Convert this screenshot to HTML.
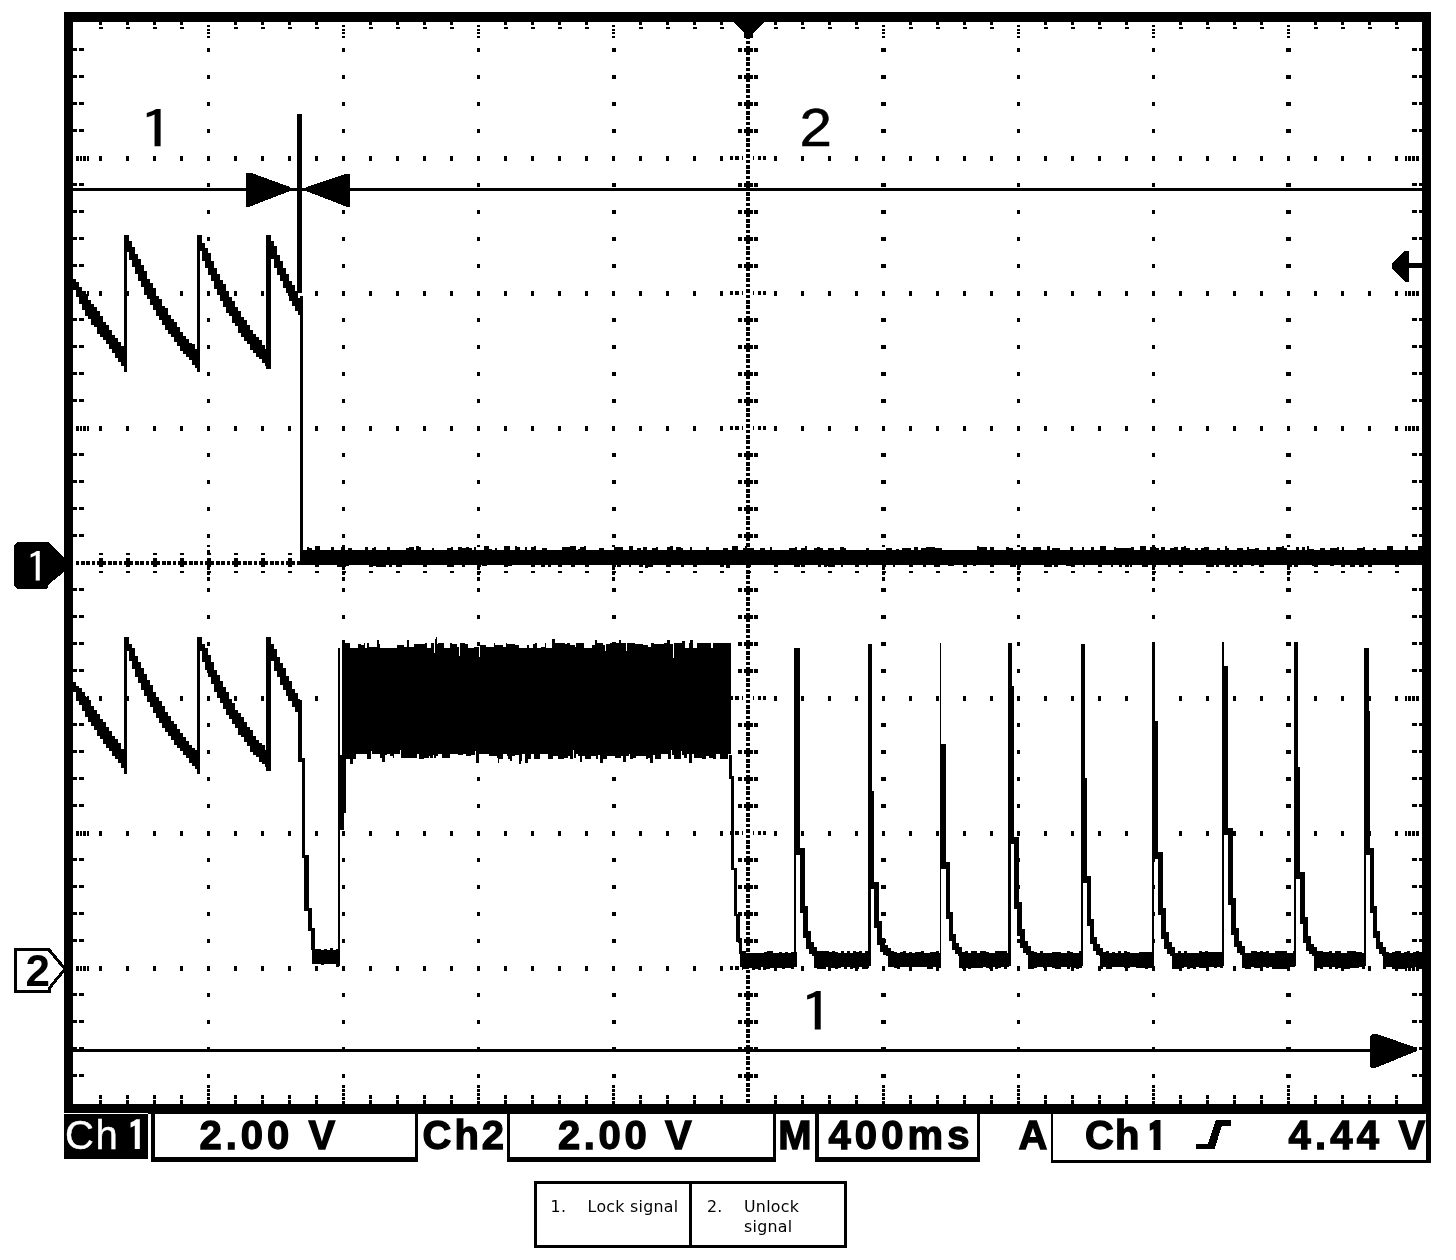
<!DOCTYPE html>
<html lang="en"><head><meta charset="utf-8"><title>Oscilloscope capture - lock / unlock signal</title>
<style>
html,body{margin:0;padding:0;background:#fff;}
body{width:1456px;height:1260px;overflow:hidden;position:relative;font-family:"Liberation Sans",sans-serif;}
svg{position:absolute;left:0;top:0;display:block;will-change:transform;}
svg text{font-family:"Liberation Sans",sans-serif;}
svg .d{font-family:"IPAGothic","Liberation Sans",sans-serif;}
table.legend{will-change:transform;position:absolute;left:534px;top:1181px;width:313px;height:67px;border-collapse:collapse;table-layout:fixed;font-family:"DejaVu Sans","Liberation Sans",sans-serif;font-size:15.8px;line-height:19.4px;letter-spacing:.28px;color:#000;}
table.legend td{border:3px solid #000;padding:0;vertical-align:top;position:relative;}
table.legend td.c1{width:152px;}
table.legend td.c1 .n{left:13.6px;}
table.legend td.c1 .t{left:50.6px;}
table.legend .n{position:absolute;left:15px;top:13.4px;}
table.legend .t{position:absolute;left:52px;top:13.4px;white-space:nowrap;}
</style></head><body>
<svg width="1456" height="1260" viewBox="0 0 1456 1260" shape-rendering="crispEdges">
<rect x="0" y="0" width="1456" height="1260" fill="#fff"/>
<g id="grid">
<path d="M207 47.5h3v4h-3zM207 74.5h3v4h-3zM207 101.5h3v4h-3zM207 128.5h3v4h-3zM207 182.5h3v4h-3zM207 209.5h3v4h-3zM207 236.5h3v4h-3zM207 263.5h3v4h-3zM207 317.5h3v4h-3zM207 344.5h3v4h-3zM207 371.5h3v4h-3zM207 398.5h3v4h-3zM207 452.5h3v4h-3zM207 479.5h3v4h-3zM207 506.5h3v4h-3zM207 533.5h3v4h-3zM207 587.5h3v4h-3zM207 614.5h3v4h-3zM207 641.5h3v4h-3zM207 668.5h3v4h-3zM207 722.5h3v4h-3zM207 749.5h3v4h-3zM207 776.5h3v4h-3zM207 803.5h3v4h-3zM207 857.5h3v4h-3zM207 884.5h3v4h-3zM207 911.5h3v4h-3zM207 938.5h3v4h-3zM207 992.5h3v4h-3zM207 1019.5h3v4h-3zM207 1046.5h3v4h-3zM207 1073.5h3v4h-3zM207 25h3v2h-3zM207 28.5h3v2h-3zM207 32h3v2h-3zM207 36h3v2h-3zM207 1085h3v2.5h-3zM207 1089h3v2.5h-3zM207 1093h3v2.5h-3zM207 1097h3v2.5h-3zM207 1101h3v2.5h-3zM207 545.2h3v1.5h-3zM207 549.5h3v4h-3zM207 566.5h3v3h-3zM207 571.8h3v3.5h-3zM207 577.2h3v3.5h-3zM341.7 47.5h3.6v4h-3.6zM341.7 74.5h3.6v4h-3.6zM341.7 101.5h3.6v4h-3.6zM341.7 128.5h3.6v4h-3.6zM341.7 182.5h3.6v4h-3.6zM341.7 209.5h3.6v4h-3.6zM341.7 236.5h3.6v4h-3.6zM341.7 263.5h3.6v4h-3.6zM341.7 317.5h3.6v4h-3.6zM341.7 344.5h3.6v4h-3.6zM341.7 371.5h3.6v4h-3.6zM341.7 398.5h3.6v4h-3.6zM341.7 452.5h3.6v4h-3.6zM341.7 479.5h3.6v4h-3.6zM341.7 506.5h3.6v4h-3.6zM341.7 533.5h3.6v4h-3.6zM341.7 587.5h3.6v4h-3.6zM341.7 614.5h3.6v4h-3.6zM341.7 641.5h3.6v4h-3.6zM341.7 668.5h3.6v4h-3.6zM341.7 722.5h3.6v4h-3.6zM341.7 749.5h3.6v4h-3.6zM341.7 776.5h3.6v4h-3.6zM341.7 803.5h3.6v4h-3.6zM341.7 857.5h3.6v4h-3.6zM341.7 884.5h3.6v4h-3.6zM341.7 911.5h3.6v4h-3.6zM341.7 938.5h3.6v4h-3.6zM341.7 992.5h3.6v4h-3.6zM341.7 1019.5h3.6v4h-3.6zM341.7 1046.5h3.6v4h-3.6zM341.7 1073.5h3.6v4h-3.6zM342 25h3v2h-3zM342 28.5h3v2h-3zM342 32h3v2h-3zM342 36h3v2h-3zM342 1085h3v2.5h-3zM342 1089h3v2.5h-3zM342 1093h3v2.5h-3zM342 1097h3v2.5h-3zM342 1101h3v2.5h-3zM342 545.2h3v1.5h-3zM342 549.5h3v4h-3zM342 566.5h3v3h-3zM342 571.8h3v3.5h-3zM342 577.2h3v3.5h-3zM477.2 47.5h2.6v4h-2.6zM477.2 74.5h2.6v4h-2.6zM477.2 101.5h2.6v4h-2.6zM477.2 128.5h2.6v4h-2.6zM477.2 182.5h2.6v4h-2.6zM477.2 209.5h2.6v4h-2.6zM477.2 236.5h2.6v4h-2.6zM477.2 263.5h2.6v4h-2.6zM477.2 317.5h2.6v4h-2.6zM477.2 344.5h2.6v4h-2.6zM477.2 371.5h2.6v4h-2.6zM477.2 398.5h2.6v4h-2.6zM477.2 452.5h2.6v4h-2.6zM477.2 479.5h2.6v4h-2.6zM477.2 506.5h2.6v4h-2.6zM477.2 533.5h2.6v4h-2.6zM477.2 587.5h2.6v4h-2.6zM477.2 614.5h2.6v4h-2.6zM477.2 641.5h2.6v4h-2.6zM477.2 668.5h2.6v4h-2.6zM477.2 722.5h2.6v4h-2.6zM477.2 749.5h2.6v4h-2.6zM477.2 776.5h2.6v4h-2.6zM477.2 803.5h2.6v4h-2.6zM477.2 857.5h2.6v4h-2.6zM477.2 884.5h2.6v4h-2.6zM477.2 911.5h2.6v4h-2.6zM477.2 938.5h2.6v4h-2.6zM477.2 992.5h2.6v4h-2.6zM477.2 1019.5h2.6v4h-2.6zM477.2 1046.5h2.6v4h-2.6zM477.2 1073.5h2.6v4h-2.6zM477 25h3v2h-3zM477 28.5h3v2h-3zM477 32h3v2h-3zM477 36h3v2h-3zM477 1085h3v2.5h-3zM477 1089h3v2.5h-3zM477 1093h3v2.5h-3zM477 1097h3v2.5h-3zM477 1101h3v2.5h-3zM477 545.2h3v1.5h-3zM477 549.5h3v4h-3zM477 566.5h3v3h-3zM477 571.8h3v3.5h-3zM477 577.2h3v3.5h-3zM611.5 47.5h4v4h-4zM611.5 74.5h4v4h-4zM611.5 101.5h4v4h-4zM611.5 128.5h4v4h-4zM611.5 182.5h4v4h-4zM611.5 209.5h4v4h-4zM611.5 236.5h4v4h-4zM611.5 263.5h4v4h-4zM611.5 317.5h4v4h-4zM611.5 344.5h4v4h-4zM611.5 371.5h4v4h-4zM611.5 398.5h4v4h-4zM611.5 452.5h4v4h-4zM611.5 479.5h4v4h-4zM611.5 506.5h4v4h-4zM611.5 533.5h4v4h-4zM611.5 587.5h4v4h-4zM611.5 614.5h4v4h-4zM611.5 641.5h4v4h-4zM611.5 668.5h4v4h-4zM611.5 722.5h4v4h-4zM611.5 749.5h4v4h-4zM611.5 776.5h4v4h-4zM611.5 803.5h4v4h-4zM611.5 857.5h4v4h-4zM611.5 884.5h4v4h-4zM611.5 911.5h4v4h-4zM611.5 938.5h4v4h-4zM611.5 992.5h4v4h-4zM611.5 1019.5h4v4h-4zM611.5 1046.5h4v4h-4zM611.5 1073.5h4v4h-4zM612 25h3v2h-3zM612 28.5h3v2h-3zM612 32h3v2h-3zM612 36h3v2h-3zM612 1085h3v2.5h-3zM612 1089h3v2.5h-3zM612 1093h3v2.5h-3zM612 1097h3v2.5h-3zM612 1101h3v2.5h-3zM612 545.2h3v1.5h-3zM612 549.5h3v4h-3zM612 566.5h3v3h-3zM612 571.8h3v3.5h-3zM612 577.2h3v3.5h-3zM881.3 47.5h4.4v4h-4.4zM881.3 74.5h4.4v4h-4.4zM881.3 101.5h4.4v4h-4.4zM881.3 128.5h4.4v4h-4.4zM881.3 182.5h4.4v4h-4.4zM881.3 209.5h4.4v4h-4.4zM881.3 236.5h4.4v4h-4.4zM881.3 263.5h4.4v4h-4.4zM881.3 317.5h4.4v4h-4.4zM881.3 344.5h4.4v4h-4.4zM881.3 371.5h4.4v4h-4.4zM881.3 398.5h4.4v4h-4.4zM881.3 452.5h4.4v4h-4.4zM881.3 479.5h4.4v4h-4.4zM881.3 506.5h4.4v4h-4.4zM881.3 533.5h4.4v4h-4.4zM881.3 587.5h4.4v4h-4.4zM881.3 614.5h4.4v4h-4.4zM881.3 641.5h4.4v4h-4.4zM881.3 668.5h4.4v4h-4.4zM881.3 722.5h4.4v4h-4.4zM881.3 749.5h4.4v4h-4.4zM881.3 776.5h4.4v4h-4.4zM881.3 803.5h4.4v4h-4.4zM881.3 857.5h4.4v4h-4.4zM881.3 884.5h4.4v4h-4.4zM881.3 911.5h4.4v4h-4.4zM881.3 938.5h4.4v4h-4.4zM881.3 992.5h4.4v4h-4.4zM881.3 1019.5h4.4v4h-4.4zM881.3 1046.5h4.4v4h-4.4zM881.3 1073.5h4.4v4h-4.4zM882 25h3v2h-3zM882 28.5h3v2h-3zM882 32h3v2h-3zM882 36h3v2h-3zM882 1085h3v2.5h-3zM882 1089h3v2.5h-3zM882 1093h3v2.5h-3zM882 1097h3v2.5h-3zM882 1101h3v2.5h-3zM882 545.2h3v1.5h-3zM882 549.5h3v4h-3zM882 566.5h3v3h-3zM882 571.8h3v3.5h-3zM882 577.2h3v3.5h-3zM1017 47.5h3v4h-3zM1017 74.5h3v4h-3zM1017 101.5h3v4h-3zM1017 128.5h3v4h-3zM1017 182.5h3v4h-3zM1017 209.5h3v4h-3zM1017 236.5h3v4h-3zM1017 263.5h3v4h-3zM1017 317.5h3v4h-3zM1017 344.5h3v4h-3zM1017 371.5h3v4h-3zM1017 398.5h3v4h-3zM1017 452.5h3v4h-3zM1017 479.5h3v4h-3zM1017 506.5h3v4h-3zM1017 533.5h3v4h-3zM1017 587.5h3v4h-3zM1017 614.5h3v4h-3zM1017 641.5h3v4h-3zM1017 668.5h3v4h-3zM1017 722.5h3v4h-3zM1017 749.5h3v4h-3zM1017 776.5h3v4h-3zM1017 803.5h3v4h-3zM1017 857.5h3v4h-3zM1017 884.5h3v4h-3zM1017 911.5h3v4h-3zM1017 938.5h3v4h-3zM1017 992.5h3v4h-3zM1017 1019.5h3v4h-3zM1017 1046.5h3v4h-3zM1017 1073.5h3v4h-3zM1017 25h3v2h-3zM1017 28.5h3v2h-3zM1017 32h3v2h-3zM1017 36h3v2h-3zM1017 1085h3v2.5h-3zM1017 1089h3v2.5h-3zM1017 1093h3v2.5h-3zM1017 1097h3v2.5h-3zM1017 1101h3v2.5h-3zM1017 545.2h3v1.5h-3zM1017 549.5h3v4h-3zM1017 566.5h3v3h-3zM1017 571.8h3v3.5h-3zM1017 577.2h3v3.5h-3zM1152.2 47.5h2.6v4h-2.6zM1152.2 74.5h2.6v4h-2.6zM1152.2 101.5h2.6v4h-2.6zM1152.2 128.5h2.6v4h-2.6zM1152.2 182.5h2.6v4h-2.6zM1152.2 209.5h2.6v4h-2.6zM1152.2 236.5h2.6v4h-2.6zM1152.2 263.5h2.6v4h-2.6zM1152.2 317.5h2.6v4h-2.6zM1152.2 344.5h2.6v4h-2.6zM1152.2 371.5h2.6v4h-2.6zM1152.2 398.5h2.6v4h-2.6zM1152.2 452.5h2.6v4h-2.6zM1152.2 479.5h2.6v4h-2.6zM1152.2 506.5h2.6v4h-2.6zM1152.2 533.5h2.6v4h-2.6zM1152.2 587.5h2.6v4h-2.6zM1152.2 614.5h2.6v4h-2.6zM1152.2 641.5h2.6v4h-2.6zM1152.2 668.5h2.6v4h-2.6zM1152.2 722.5h2.6v4h-2.6zM1152.2 749.5h2.6v4h-2.6zM1152.2 776.5h2.6v4h-2.6zM1152.2 803.5h2.6v4h-2.6zM1152.2 857.5h2.6v4h-2.6zM1152.2 884.5h2.6v4h-2.6zM1152.2 911.5h2.6v4h-2.6zM1152.2 938.5h2.6v4h-2.6zM1152.2 992.5h2.6v4h-2.6zM1152.2 1019.5h2.6v4h-2.6zM1152.2 1046.5h2.6v4h-2.6zM1152.2 1073.5h2.6v4h-2.6zM1152 25h3v2h-3zM1152 28.5h3v2h-3zM1152 32h3v2h-3zM1152 36h3v2h-3zM1152 1085h3v2.5h-3zM1152 1089h3v2.5h-3zM1152 1093h3v2.5h-3zM1152 1097h3v2.5h-3zM1152 1101h3v2.5h-3zM1152 545.2h3v1.5h-3zM1152 549.5h3v4h-3zM1152 566.5h3v3h-3zM1152 571.8h3v3.5h-3zM1152 577.2h3v3.5h-3zM1286 47.5h5v4h-5zM1286 74.5h5v4h-5zM1286 101.5h5v4h-5zM1286 128.5h5v4h-5zM1286 182.5h5v4h-5zM1286 209.5h5v4h-5zM1286 236.5h5v4h-5zM1286 263.5h5v4h-5zM1286 317.5h5v4h-5zM1286 344.5h5v4h-5zM1286 371.5h5v4h-5zM1286 398.5h5v4h-5zM1286 452.5h5v4h-5zM1286 479.5h5v4h-5zM1286 506.5h5v4h-5zM1286 533.5h5v4h-5zM1286 587.5h5v4h-5zM1286 614.5h5v4h-5zM1286 641.5h5v4h-5zM1286 668.5h5v4h-5zM1286 722.5h5v4h-5zM1286 749.5h5v4h-5zM1286 776.5h5v4h-5zM1286 803.5h5v4h-5zM1286 857.5h5v4h-5zM1286 884.5h5v4h-5zM1286 911.5h5v4h-5zM1286 938.5h5v4h-5zM1286 992.5h5v4h-5zM1286 1019.5h5v4h-5zM1286 1046.5h5v4h-5zM1286 1073.5h5v4h-5zM1287 25h3v2h-3zM1287 28.5h3v2h-3zM1287 32h3v2h-3zM1287 36h3v2h-3zM1287 1085h3v2.5h-3zM1287 1089h3v2.5h-3zM1287 1093h3v2.5h-3zM1287 1097h3v2.5h-3zM1287 1101h3v2.5h-3zM1287 545.2h3v1.5h-3zM1287 549.5h3v4h-3zM1287 566.5h3v3h-3zM1287 571.8h3v3.5h-3zM1287 577.2h3v3.5h-3zM99 155.5h3v5h-3zM126 155.5h3v5h-3zM153 155.5h3v5h-3zM180 155.5h3v5h-3zM207 155.5h3v5h-3zM234 155.5h3v5h-3zM261 155.5h3v5h-3zM288 155.5h3v5h-3zM315 155.5h3v5h-3zM342 155.5h3v5h-3zM369 155.5h3v5h-3zM396 155.5h3v5h-3zM423 155.5h3v5h-3zM450 155.5h3v5h-3zM477 155.5h3v5h-3zM504 155.5h3v5h-3zM531 155.5h3v5h-3zM558 155.5h3v5h-3zM585 155.5h3v5h-3zM612 155.5h3v5h-3zM639 155.5h3v5h-3zM666 155.5h3v5h-3zM693 155.5h3v5h-3zM720 155.5h3v5h-3zM774 155.5h3v5h-3zM801 155.5h3v5h-3zM828 155.5h3v5h-3zM855 155.5h3v5h-3zM882 155.5h3v5h-3zM909 155.5h3v5h-3zM936 155.5h3v5h-3zM963 155.5h3v5h-3zM990 155.5h3v5h-3zM1017 155.5h3v5h-3zM1044 155.5h3v5h-3zM1071 155.5h3v5h-3zM1098 155.5h3v5h-3zM1125 155.5h3v5h-3zM1152 155.5h3v5h-3zM1179 155.5h3v5h-3zM1206 155.5h3v5h-3zM1233 155.5h3v5h-3zM1260 155.5h3v5h-3zM1287 155.5h3v5h-3zM1314 155.5h3v5h-3zM1341 155.5h3v5h-3zM1368 155.5h3v5h-3zM1395 155.5h3v5h-3zM76 155.5h2.6v5h-2.6zM79.6 155.5h2.6v5h-2.6zM83.2 155.5h2.6v5h-2.6zM86.8 155.5h2.6v5h-2.6zM1404.5 155.5h2.6v5h-2.6zM1408.3 155.5h2.6v5h-2.6zM1412.1 155.5h2.6v5h-2.6zM1416.4 155.5h2.6v5h-2.6zM729.8 155.5h3.5v4.5h-3.5zM735 155.5h4v4.5h-4zM741.7 155.5h1.6v4.5h-1.6zM752.7 155.5h1.6v4.5h-1.6zM757.5 155.5h3v4.5h-3zM762.8 155.5h3.5v4.5h-3.5zM99 290.5h3v5h-3zM126 290.5h3v5h-3zM153 290.5h3v5h-3zM180 290.5h3v5h-3zM207 290.5h3v5h-3zM234 290.5h3v5h-3zM261 290.5h3v5h-3zM288 290.5h3v5h-3zM315 290.5h3v5h-3zM342 290.5h3v5h-3zM369 290.5h3v5h-3zM396 290.5h3v5h-3zM423 290.5h3v5h-3zM450 290.5h3v5h-3zM477 290.5h3v5h-3zM504 290.5h3v5h-3zM531 290.5h3v5h-3zM558 290.5h3v5h-3zM585 290.5h3v5h-3zM612 290.5h3v5h-3zM639 290.5h3v5h-3zM666 290.5h3v5h-3zM693 290.5h3v5h-3zM720 290.5h3v5h-3zM774 290.5h3v5h-3zM801 290.5h3v5h-3zM828 290.5h3v5h-3zM855 290.5h3v5h-3zM882 290.5h3v5h-3zM909 290.5h3v5h-3zM936 290.5h3v5h-3zM963 290.5h3v5h-3zM990 290.5h3v5h-3zM1017 290.5h3v5h-3zM1044 290.5h3v5h-3zM1071 290.5h3v5h-3zM1098 290.5h3v5h-3zM1125 290.5h3v5h-3zM1152 290.5h3v5h-3zM1179 290.5h3v5h-3zM1206 290.5h3v5h-3zM1233 290.5h3v5h-3zM1260 290.5h3v5h-3zM1287 290.5h3v5h-3zM1314 290.5h3v5h-3zM1341 290.5h3v5h-3zM1368 290.5h3v5h-3zM1395 290.5h3v5h-3zM76 290.5h2.6v5h-2.6zM79.6 290.5h2.6v5h-2.6zM83.2 290.5h2.6v5h-2.6zM86.8 290.5h2.6v5h-2.6zM1404.5 290.5h2.6v5h-2.6zM1408.3 290.5h2.6v5h-2.6zM1412.1 290.5h2.6v5h-2.6zM1416.4 290.5h2.6v5h-2.6zM729.8 290.5h3.5v4.5h-3.5zM735 290.5h4v4.5h-4zM741.7 290.5h1.6v4.5h-1.6zM752.7 290.5h1.6v4.5h-1.6zM757.5 290.5h3v4.5h-3zM762.8 290.5h3.5v4.5h-3.5zM99 425.5h3v5h-3zM126 425.5h3v5h-3zM153 425.5h3v5h-3zM180 425.5h3v5h-3zM207 425.5h3v5h-3zM234 425.5h3v5h-3zM261 425.5h3v5h-3zM288 425.5h3v5h-3zM315 425.5h3v5h-3zM342 425.5h3v5h-3zM369 425.5h3v5h-3zM396 425.5h3v5h-3zM423 425.5h3v5h-3zM450 425.5h3v5h-3zM477 425.5h3v5h-3zM504 425.5h3v5h-3zM531 425.5h3v5h-3zM558 425.5h3v5h-3zM585 425.5h3v5h-3zM612 425.5h3v5h-3zM639 425.5h3v5h-3zM666 425.5h3v5h-3zM693 425.5h3v5h-3zM720 425.5h3v5h-3zM774 425.5h3v5h-3zM801 425.5h3v5h-3zM828 425.5h3v5h-3zM855 425.5h3v5h-3zM882 425.5h3v5h-3zM909 425.5h3v5h-3zM936 425.5h3v5h-3zM963 425.5h3v5h-3zM990 425.5h3v5h-3zM1017 425.5h3v5h-3zM1044 425.5h3v5h-3zM1071 425.5h3v5h-3zM1098 425.5h3v5h-3zM1125 425.5h3v5h-3zM1152 425.5h3v5h-3zM1179 425.5h3v5h-3zM1206 425.5h3v5h-3zM1233 425.5h3v5h-3zM1260 425.5h3v5h-3zM1287 425.5h3v5h-3zM1314 425.5h3v5h-3zM1341 425.5h3v5h-3zM1368 425.5h3v5h-3zM1395 425.5h3v5h-3zM76 425.5h2.6v5h-2.6zM79.6 425.5h2.6v5h-2.6zM83.2 425.5h2.6v5h-2.6zM86.8 425.5h2.6v5h-2.6zM1404.5 425.5h2.6v5h-2.6zM1408.3 425.5h2.6v5h-2.6zM1412.1 425.5h2.6v5h-2.6zM1416.4 425.5h2.6v5h-2.6zM729.8 425.5h3.5v4.5h-3.5zM735 425.5h4v4.5h-4zM741.7 425.5h1.6v4.5h-1.6zM752.7 425.5h1.6v4.5h-1.6zM757.5 425.5h3v4.5h-3zM762.8 425.5h3.5v4.5h-3.5zM99 695.5h3v5h-3zM126 695.5h3v5h-3zM153 695.5h3v5h-3zM180 695.5h3v5h-3zM207 695.5h3v5h-3zM234 695.5h3v5h-3zM261 695.5h3v5h-3zM288 695.5h3v5h-3zM315 695.5h3v5h-3zM342 695.5h3v5h-3zM369 695.5h3v5h-3zM396 695.5h3v5h-3zM423 695.5h3v5h-3zM450 695.5h3v5h-3zM477 695.5h3v5h-3zM504 695.5h3v5h-3zM531 695.5h3v5h-3zM558 695.5h3v5h-3zM585 695.5h3v5h-3zM612 695.5h3v5h-3zM639 695.5h3v5h-3zM666 695.5h3v5h-3zM693 695.5h3v5h-3zM720 695.5h3v5h-3zM774 695.5h3v5h-3zM801 695.5h3v5h-3zM828 695.5h3v5h-3zM855 695.5h3v5h-3zM882 695.5h3v5h-3zM909 695.5h3v5h-3zM936 695.5h3v5h-3zM963 695.5h3v5h-3zM990 695.5h3v5h-3zM1017 695.5h3v5h-3zM1044 695.5h3v5h-3zM1071 695.5h3v5h-3zM1098 695.5h3v5h-3zM1125 695.5h3v5h-3zM1152 695.5h3v5h-3zM1179 695.5h3v5h-3zM1206 695.5h3v5h-3zM1233 695.5h3v5h-3zM1260 695.5h3v5h-3zM1287 695.5h3v5h-3zM1314 695.5h3v5h-3zM1341 695.5h3v5h-3zM1368 695.5h3v5h-3zM1395 695.5h3v5h-3zM76 695.5h2.6v5h-2.6zM79.6 695.5h2.6v5h-2.6zM83.2 695.5h2.6v5h-2.6zM86.8 695.5h2.6v5h-2.6zM1404.5 695.5h2.6v5h-2.6zM1408.3 695.5h2.6v5h-2.6zM1412.1 695.5h2.6v5h-2.6zM1416.4 695.5h2.6v5h-2.6zM729.8 695.5h3.5v4.5h-3.5zM735 695.5h4v4.5h-4zM741.7 695.5h1.6v4.5h-1.6zM752.7 695.5h1.6v4.5h-1.6zM757.5 695.5h3v4.5h-3zM762.8 695.5h3.5v4.5h-3.5zM99 830.5h3v5h-3zM126 830.5h3v5h-3zM153 830.5h3v5h-3zM180 830.5h3v5h-3zM207 830.5h3v5h-3zM234 830.5h3v5h-3zM261 830.5h3v5h-3zM288 830.5h3v5h-3zM315 830.5h3v5h-3zM342 830.5h3v5h-3zM369 830.5h3v5h-3zM396 830.5h3v5h-3zM423 830.5h3v5h-3zM450 830.5h3v5h-3zM477 830.5h3v5h-3zM504 830.5h3v5h-3zM531 830.5h3v5h-3zM558 830.5h3v5h-3zM585 830.5h3v5h-3zM612 830.5h3v5h-3zM639 830.5h3v5h-3zM666 830.5h3v5h-3zM693 830.5h3v5h-3zM720 830.5h3v5h-3zM774 830.5h3v5h-3zM801 830.5h3v5h-3zM828 830.5h3v5h-3zM855 830.5h3v5h-3zM882 830.5h3v5h-3zM909 830.5h3v5h-3zM936 830.5h3v5h-3zM963 830.5h3v5h-3zM990 830.5h3v5h-3zM1017 830.5h3v5h-3zM1044 830.5h3v5h-3zM1071 830.5h3v5h-3zM1098 830.5h3v5h-3zM1125 830.5h3v5h-3zM1152 830.5h3v5h-3zM1179 830.5h3v5h-3zM1206 830.5h3v5h-3zM1233 830.5h3v5h-3zM1260 830.5h3v5h-3zM1287 830.5h3v5h-3zM1314 830.5h3v5h-3zM1341 830.5h3v5h-3zM1368 830.5h3v5h-3zM1395 830.5h3v5h-3zM76 830.5h2.6v5h-2.6zM79.6 830.5h2.6v5h-2.6zM83.2 830.5h2.6v5h-2.6zM86.8 830.5h2.6v5h-2.6zM1404.5 830.5h2.6v5h-2.6zM1408.3 830.5h2.6v5h-2.6zM1412.1 830.5h2.6v5h-2.6zM1416.4 830.5h2.6v5h-2.6zM729.8 830.5h3.5v4.5h-3.5zM735 830.5h4v4.5h-4zM741.7 830.5h1.6v4.5h-1.6zM752.7 830.5h1.6v4.5h-1.6zM757.5 830.5h3v4.5h-3zM762.8 830.5h3.5v4.5h-3.5zM99 965.5h3v5h-3zM126 965.5h3v5h-3zM153 965.5h3v5h-3zM180 965.5h3v5h-3zM207 965.5h3v5h-3zM234 965.5h3v5h-3zM261 965.5h3v5h-3zM288 965.5h3v5h-3zM315 965.5h3v5h-3zM342 965.5h3v5h-3zM369 965.5h3v5h-3zM396 965.5h3v5h-3zM423 965.5h3v5h-3zM450 965.5h3v5h-3zM477 965.5h3v5h-3zM504 965.5h3v5h-3zM531 965.5h3v5h-3zM558 965.5h3v5h-3zM585 965.5h3v5h-3zM612 965.5h3v5h-3zM639 965.5h3v5h-3zM666 965.5h3v5h-3zM693 965.5h3v5h-3zM720 965.5h3v5h-3zM774 965.5h3v5h-3zM801 965.5h3v5h-3zM828 965.5h3v5h-3zM855 965.5h3v5h-3zM882 965.5h3v5h-3zM909 965.5h3v5h-3zM936 965.5h3v5h-3zM963 965.5h3v5h-3zM990 965.5h3v5h-3zM1017 965.5h3v5h-3zM1044 965.5h3v5h-3zM1071 965.5h3v5h-3zM1098 965.5h3v5h-3zM1125 965.5h3v5h-3zM1152 965.5h3v5h-3zM1179 965.5h3v5h-3zM1206 965.5h3v5h-3zM1233 965.5h3v5h-3zM1260 965.5h3v5h-3zM1287 965.5h3v5h-3zM1314 965.5h3v5h-3zM1341 965.5h3v5h-3zM1368 965.5h3v5h-3zM1395 965.5h3v5h-3zM76 965.5h2.6v5h-2.6zM79.6 965.5h2.6v5h-2.6zM83.2 965.5h2.6v5h-2.6zM86.8 965.5h2.6v5h-2.6zM1404.5 965.5h2.6v5h-2.6zM1408.3 965.5h2.6v5h-2.6zM1412.1 965.5h2.6v5h-2.6zM1416.4 965.5h2.6v5h-2.6zM729.8 965.5h3.5v4.5h-3.5zM735 965.5h4v4.5h-4zM741.7 965.5h1.6v4.5h-1.6zM752.7 965.5h1.6v4.5h-1.6zM757.5 965.5h3v4.5h-3zM762.8 965.5h3.5v4.5h-3.5zM73 48h4v3h-4zM78.5 48h5v3h-5zM1412 48h5v3h-5zM1418.5 48h4v3h-4zM73 75h4v3h-4zM78.5 75h5v3h-5zM1412 75h5v3h-5zM1418.5 75h4v3h-4zM73 102h4v3h-4zM78.5 102h5v3h-5zM1412 102h5v3h-5zM1418.5 102h4v3h-4zM73 129h4v3h-4zM78.5 129h5v3h-5zM1412 129h5v3h-5zM1418.5 129h4v3h-4zM73 183h4v3h-4zM78.5 183h5v3h-5zM1412 183h5v3h-5zM1418.5 183h4v3h-4zM73 210h4v3h-4zM78.5 210h5v3h-5zM1412 210h5v3h-5zM1418.5 210h4v3h-4zM73 237h4v3h-4zM78.5 237h5v3h-5zM1412 237h5v3h-5zM1418.5 237h4v3h-4zM73 264h4v3h-4zM78.5 264h5v3h-5zM1412 264h5v3h-5zM1418.5 264h4v3h-4zM73 318h4v3h-4zM78.5 318h5v3h-5zM1412 318h5v3h-5zM1418.5 318h4v3h-4zM73 345h4v3h-4zM78.5 345h5v3h-5zM1412 345h5v3h-5zM1418.5 345h4v3h-4zM73 372h4v3h-4zM78.5 372h5v3h-5zM1412 372h5v3h-5zM1418.5 372h4v3h-4zM73 399h4v3h-4zM78.5 399h5v3h-5zM1412 399h5v3h-5zM1418.5 399h4v3h-4zM73 453h4v3h-4zM78.5 453h5v3h-5zM1412 453h5v3h-5zM1418.5 453h4v3h-4zM73 480h4v3h-4zM78.5 480h5v3h-5zM1412 480h5v3h-5zM1418.5 480h4v3h-4zM73 507h4v3h-4zM78.5 507h5v3h-5zM1412 507h5v3h-5zM1418.5 507h4v3h-4zM73 534h4v3h-4zM78.5 534h5v3h-5zM1412 534h5v3h-5zM1418.5 534h4v3h-4zM73 588h4v3h-4zM78.5 588h5v3h-5zM1412 588h5v3h-5zM1418.5 588h4v3h-4zM73 615h4v3h-4zM78.5 615h5v3h-5zM1412 615h5v3h-5zM1418.5 615h4v3h-4zM73 642h4v3h-4zM78.5 642h5v3h-5zM1412 642h5v3h-5zM1418.5 642h4v3h-4zM73 669h4v3h-4zM78.5 669h5v3h-5zM1412 669h5v3h-5zM1418.5 669h4v3h-4zM73 723h4v3h-4zM78.5 723h5v3h-5zM1412 723h5v3h-5zM1418.5 723h4v3h-4zM73 750h4v3h-4zM78.5 750h5v3h-5zM1412 750h5v3h-5zM1418.5 750h4v3h-4zM73 777h4v3h-4zM78.5 777h5v3h-5zM1412 777h5v3h-5zM1418.5 777h4v3h-4zM73 804h4v3h-4zM78.5 804h5v3h-5zM1412 804h5v3h-5zM1418.5 804h4v3h-4zM73 858h4v3h-4zM78.5 858h5v3h-5zM1412 858h5v3h-5zM1418.5 858h4v3h-4zM73 885h4v3h-4zM78.5 885h5v3h-5zM1412 885h5v3h-5zM1418.5 885h4v3h-4zM73 912h4v3h-4zM78.5 912h5v3h-5zM1412 912h5v3h-5zM1418.5 912h4v3h-4zM73 939h4v3h-4zM78.5 939h5v3h-5zM1412 939h5v3h-5zM1418.5 939h4v3h-4zM73 993h4v3h-4zM78.5 993h5v3h-5zM1412 993h5v3h-5zM1418.5 993h4v3h-4zM73 1020h4v3h-4zM78.5 1020h5v3h-5zM1412 1020h5v3h-5zM1418.5 1020h4v3h-4zM73 1047h4v3h-4zM78.5 1047h5v3h-5zM1412 1047h5v3h-5zM1418.5 1047h4v3h-4zM73 1074h4v3h-4zM78.5 1074h5v3h-5zM1412 1074h5v3h-5zM1418.5 1074h4v3h-4zM99 22h3v2.5h-3zM98.5 27h4v2h-4zM99 1095h3v3.5h-3zM99 1100h3v4h-3zM126 22h3v2.5h-3zM125.5 27h4v2h-4zM126 1095h3v3.5h-3zM126 1100h3v4h-3zM153 22h3v2.5h-3zM152.5 27h4v2h-4zM153 1095h3v3.5h-3zM153 1100h3v4h-3zM180 22h3v2.5h-3zM179.5 27h4v2h-4zM180 1095h3v3.5h-3zM180 1100h3v4h-3zM234 22h3v2.5h-3zM233.5 27h4v2h-4zM234 1095h3v3.5h-3zM234 1100h3v4h-3zM261 22h3v2.5h-3zM260.5 27h4v2h-4zM261 1095h3v3.5h-3zM261 1100h3v4h-3zM288 22h3v2.5h-3zM287.5 27h4v2h-4zM288 1095h3v3.5h-3zM288 1100h3v4h-3zM315 22h3v2.5h-3zM314.5 27h4v2h-4zM315 1095h3v3.5h-3zM315 1100h3v4h-3zM369 22h3v2.5h-3zM368.5 27h4v2h-4zM369 1095h3v3.5h-3zM369 1100h3v4h-3zM396 22h3v2.5h-3zM395.5 27h4v2h-4zM396 1095h3v3.5h-3zM396 1100h3v4h-3zM423 22h3v2.5h-3zM422.5 27h4v2h-4zM423 1095h3v3.5h-3zM423 1100h3v4h-3zM450 22h3v2.5h-3zM449.5 27h4v2h-4zM450 1095h3v3.5h-3zM450 1100h3v4h-3zM504 22h3v2.5h-3zM503.5 27h4v2h-4zM504 1095h3v3.5h-3zM504 1100h3v4h-3zM531 22h3v2.5h-3zM530.5 27h4v2h-4zM531 1095h3v3.5h-3zM531 1100h3v4h-3zM558 22h3v2.5h-3zM557.5 27h4v2h-4zM558 1095h3v3.5h-3zM558 1100h3v4h-3zM585 22h3v2.5h-3zM584.5 27h4v2h-4zM585 1095h3v3.5h-3zM585 1100h3v4h-3zM639 22h3v2.5h-3zM638.5 27h4v2h-4zM639 1095h3v3.5h-3zM639 1100h3v4h-3zM666 22h3v2.5h-3zM665.5 27h4v2h-4zM666 1095h3v3.5h-3zM666 1100h3v4h-3zM693 22h3v2.5h-3zM692.5 27h4v2h-4zM693 1095h3v3.5h-3zM693 1100h3v4h-3zM720 22h3v2.5h-3zM719.5 27h4v2h-4zM720 1095h3v3.5h-3zM720 1100h3v4h-3zM774 22h3v2.5h-3zM773.5 27h4v2h-4zM774 1095h3v3.5h-3zM774 1100h3v4h-3zM801 22h3v2.5h-3zM800.5 27h4v2h-4zM801 1095h3v3.5h-3zM801 1100h3v4h-3zM828 22h3v2.5h-3zM827.5 27h4v2h-4zM828 1095h3v3.5h-3zM828 1100h3v4h-3zM855 22h3v2.5h-3zM854.5 27h4v2h-4zM855 1095h3v3.5h-3zM855 1100h3v4h-3zM909 22h3v2.5h-3zM908.5 27h4v2h-4zM909 1095h3v3.5h-3zM909 1100h3v4h-3zM936 22h3v2.5h-3zM935.5 27h4v2h-4zM936 1095h3v3.5h-3zM936 1100h3v4h-3zM963 22h3v2.5h-3zM962.5 27h4v2h-4zM963 1095h3v3.5h-3zM963 1100h3v4h-3zM990 22h3v2.5h-3zM989.5 27h4v2h-4zM990 1095h3v3.5h-3zM990 1100h3v4h-3zM1044 22h3v2.5h-3zM1043.5 27h4v2h-4zM1044 1095h3v3.5h-3zM1044 1100h3v4h-3zM1071 22h3v2.5h-3zM1070.5 27h4v2h-4zM1071 1095h3v3.5h-3zM1071 1100h3v4h-3zM1098 22h3v2.5h-3zM1097.5 27h4v2h-4zM1098 1095h3v3.5h-3zM1098 1100h3v4h-3zM1125 22h3v2.5h-3zM1124.5 27h4v2h-4zM1125 1095h3v3.5h-3zM1125 1100h3v4h-3zM1179 22h3v2.5h-3zM1178.5 27h4v2h-4zM1179 1095h3v3.5h-3zM1179 1100h3v4h-3zM1206 22h3v2.5h-3zM1205.5 27h4v2h-4zM1206 1095h3v3.5h-3zM1206 1100h3v4h-3zM1233 22h3v2.5h-3zM1232.5 27h4v2h-4zM1233 1095h3v3.5h-3zM1233 1100h3v4h-3zM1260 22h3v2.5h-3zM1259.5 27h4v2h-4zM1260 1095h3v3.5h-3zM1260 1100h3v4h-3zM1314 22h3v2.5h-3zM1313.5 27h4v2h-4zM1314 1095h3v3.5h-3zM1314 1100h3v4h-3zM1341 22h3v2.5h-3zM1340.5 27h4v2h-4zM1341 1095h3v3.5h-3zM1341 1100h3v4h-3zM1368 22h3v2.5h-3zM1367.5 27h4v2h-4zM1368 1095h3v3.5h-3zM1368 1100h3v4h-3zM1395 22h3v2.5h-3zM1394.5 27h4v2h-4zM1395 1095h3v3.5h-3zM1395 1100h3v4h-3zM746 24.5h4v3.6h-4zM746 29.9h4v3.6h-4zM746 35.3h4v3.6h-4zM746 40.7h4v3.6h-4zM746 46.1h4v3.6h-4zM746 51.5h4v3.6h-4zM746 56.9h4v3.6h-4zM746 62.3h4v3.6h-4zM746 67.7h4v3.6h-4zM746 73.1h4v3.6h-4zM746 78.5h4v3.6h-4zM746 83.9h4v3.6h-4zM746 89.3h4v3.6h-4zM746 94.7h4v3.6h-4zM746 100.1h4v3.6h-4zM746 105.5h4v3.6h-4zM746 110.9h4v3.6h-4zM746 116.3h4v3.6h-4zM746 121.7h4v3.6h-4zM746 127.1h4v3.6h-4zM746 132.5h4v3.6h-4zM746 137.9h4v3.6h-4zM746 143.3h4v3.6h-4zM746 148.7h4v3.6h-4zM746 154.1h4v3.6h-4zM746 159.5h4v3.6h-4zM746 164.9h4v3.6h-4zM746 170.3h4v3.6h-4zM746 175.7h4v3.6h-4zM746 181.1h4v3.6h-4zM746 186.5h4v3.6h-4zM746 191.9h4v3.6h-4zM746 197.3h4v3.6h-4zM746 202.7h4v3.6h-4zM746 208.1h4v3.6h-4zM746 213.5h4v3.6h-4zM746 218.9h4v3.6h-4zM746 224.3h4v3.6h-4zM746 229.7h4v3.6h-4zM746 235.1h4v3.6h-4zM746 240.5h4v3.6h-4zM746 245.9h4v3.6h-4zM746 251.3h4v3.6h-4zM746 256.7h4v3.6h-4zM746 262.1h4v3.6h-4zM746 267.5h4v3.6h-4zM746 272.9h4v3.6h-4zM746 278.3h4v3.6h-4zM746 283.7h4v3.6h-4zM746 289.1h4v3.6h-4zM746 294.5h4v3.6h-4zM746 299.9h4v3.6h-4zM746 305.3h4v3.6h-4zM746 310.7h4v3.6h-4zM746 316.1h4v3.6h-4zM746 321.5h4v3.6h-4zM746 326.9h4v3.6h-4zM746 332.3h4v3.6h-4zM746 337.7h4v3.6h-4zM746 343.1h4v3.6h-4zM746 348.5h4v3.6h-4zM746 353.9h4v3.6h-4zM746 359.3h4v3.6h-4zM746 364.7h4v3.6h-4zM746 370.1h4v3.6h-4zM746 375.5h4v3.6h-4zM746 380.9h4v3.6h-4zM746 386.3h4v3.6h-4zM746 391.7h4v3.6h-4zM746 397.1h4v3.6h-4zM746 402.5h4v3.6h-4zM746 407.9h4v3.6h-4zM746 413.3h4v3.6h-4zM746 418.7h4v3.6h-4zM746 424.1h4v3.6h-4zM746 429.5h4v3.6h-4zM746 434.9h4v3.6h-4zM746 440.3h4v3.6h-4zM746 445.7h4v3.6h-4zM746 451.1h4v3.6h-4zM746 456.5h4v3.6h-4zM746 461.9h4v3.6h-4zM746 467.3h4v3.6h-4zM746 472.7h4v3.6h-4zM746 478.1h4v3.6h-4zM746 483.5h4v3.6h-4zM746 488.9h4v3.6h-4zM746 494.3h4v3.6h-4zM746 499.7h4v3.6h-4zM746 505.1h4v3.6h-4zM746 510.5h4v3.6h-4zM746 515.9h4v3.6h-4zM746 521.3h4v3.6h-4zM746 526.7h4v3.6h-4zM746 532.1h4v3.6h-4zM746 537.5h4v3.6h-4zM746 542.9h4v3.6h-4zM746 548.3h4v3.6h-4zM746 553.7h4v3.6h-4zM746 559.1h4v3.6h-4zM746 564.5h4v3.6h-4zM746 569.9h4v3.6h-4zM746 575.3h4v3.6h-4zM746 580.7h4v3.6h-4zM746 586.1h4v3.6h-4zM746 591.5h4v3.6h-4zM746 596.9h4v3.6h-4zM746 602.3h4v3.6h-4zM746 607.7h4v3.6h-4zM746 613.1h4v3.6h-4zM746 618.5h4v3.6h-4zM746 623.9h4v3.6h-4zM746 629.3h4v3.6h-4zM746 634.7h4v3.6h-4zM746 640.1h4v3.6h-4zM746 645.5h4v3.6h-4zM746 650.9h4v3.6h-4zM746 656.3h4v3.6h-4zM746 661.7h4v3.6h-4zM746 667.1h4v3.6h-4zM746 672.5h4v3.6h-4zM746 677.9h4v3.6h-4zM746 683.3h4v3.6h-4zM746 688.7h4v3.6h-4zM746 694.1h4v3.6h-4zM746 699.5h4v3.6h-4zM746 704.9h4v3.6h-4zM746 710.3h4v3.6h-4zM746 715.7h4v3.6h-4zM746 721.1h4v3.6h-4zM746 726.5h4v3.6h-4zM746 731.9h4v3.6h-4zM746 737.3h4v3.6h-4zM746 742.7h4v3.6h-4zM746 748.1h4v3.6h-4zM746 753.5h4v3.6h-4zM746 758.9h4v3.6h-4zM746 764.3h4v3.6h-4zM746 769.7h4v3.6h-4zM746 775.1h4v3.6h-4zM746 780.5h4v3.6h-4zM746 785.9h4v3.6h-4zM746 791.3h4v3.6h-4zM746 796.7h4v3.6h-4zM746 802.1h4v3.6h-4zM746 807.5h4v3.6h-4zM746 812.9h4v3.6h-4zM746 818.3h4v3.6h-4zM746 823.7h4v3.6h-4zM746 829.1h4v3.6h-4zM746 834.5h4v3.6h-4zM746 839.9h4v3.6h-4zM746 845.3h4v3.6h-4zM746 850.7h4v3.6h-4zM746 856.1h4v3.6h-4zM746 861.5h4v3.6h-4zM746 866.9h4v3.6h-4zM746 872.3h4v3.6h-4zM746 877.7h4v3.6h-4zM746 883.1h4v3.6h-4zM746 888.5h4v3.6h-4zM746 893.9h4v3.6h-4zM746 899.3h4v3.6h-4zM746 904.7h4v3.6h-4zM746 910.1h4v3.6h-4zM746 915.5h4v3.6h-4zM746 920.9h4v3.6h-4zM746 926.3h4v3.6h-4zM746 931.7h4v3.6h-4zM746 937.1h4v3.6h-4zM746 942.5h4v3.6h-4zM746 947.9h4v3.6h-4zM746 953.3h4v3.6h-4zM746 958.7h4v3.6h-4zM746 964.1h4v3.6h-4zM746 969.5h4v3.6h-4zM746 974.9h4v3.6h-4zM746 980.3h4v3.6h-4zM746 985.7h4v3.6h-4zM746 991.1h4v3.6h-4zM746 996.5h4v3.6h-4zM746 1001.9h4v3.6h-4zM746 1007.3h4v3.6h-4zM746 1012.7h4v3.6h-4zM746 1018.1h4v3.6h-4zM746 1023.5h4v3.6h-4zM746 1028.9h4v3.6h-4zM746 1034.3h4v3.6h-4zM746 1039.7h4v3.6h-4zM746 1045.1h4v3.6h-4zM746 1050.5h4v3.6h-4zM746 1055.9h4v3.6h-4zM746 1061.3h4v3.6h-4zM746 1066.7h4v3.6h-4zM746 1072.1h4v3.6h-4zM746 1077.5h4v3.6h-4zM746 1082.9h4v3.6h-4zM746 1088.3h4v3.6h-4zM746 1093.7h4v3.6h-4zM746 1099.1h4v3.6h-4zM738 48h4v3.5h-4zM744 48h9v3.5h-9zM754 48h4v3.5h-4zM738 75h4v3.5h-4zM744 75h9v3.5h-9zM754 75h4v3.5h-4zM738 102h4v3.5h-4zM744 102h9v3.5h-9zM754 102h4v3.5h-4zM738 129h4v3.5h-4zM744 129h9v3.5h-9zM754 129h4v3.5h-4zM738 183h4v3.5h-4zM744 183h9v3.5h-9zM754 183h4v3.5h-4zM738 210h4v3.5h-4zM744 210h9v3.5h-9zM754 210h4v3.5h-4zM738 237h4v3.5h-4zM744 237h9v3.5h-9zM754 237h4v3.5h-4zM738 264h4v3.5h-4zM744 264h9v3.5h-9zM754 264h4v3.5h-4zM738 318h4v3.5h-4zM744 318h9v3.5h-9zM754 318h4v3.5h-4zM738 345h4v3.5h-4zM744 345h9v3.5h-9zM754 345h4v3.5h-4zM738 372h4v3.5h-4zM744 372h9v3.5h-9zM754 372h4v3.5h-4zM738 399h4v3.5h-4zM744 399h9v3.5h-9zM754 399h4v3.5h-4zM738 453h4v3.5h-4zM744 453h9v3.5h-9zM754 453h4v3.5h-4zM738 480h4v3.5h-4zM744 480h9v3.5h-9zM754 480h4v3.5h-4zM738 507h4v3.5h-4zM744 507h9v3.5h-9zM754 507h4v3.5h-4zM738 534h4v3.5h-4zM744 534h9v3.5h-9zM754 534h4v3.5h-4zM738 588h4v3.5h-4zM744 588h9v3.5h-9zM754 588h4v3.5h-4zM738 615h4v3.5h-4zM744 615h9v3.5h-9zM754 615h4v3.5h-4zM738 642h4v3.5h-4zM744 642h9v3.5h-9zM754 642h4v3.5h-4zM738 669h4v3.5h-4zM744 669h9v3.5h-9zM754 669h4v3.5h-4zM738 723h4v3.5h-4zM744 723h9v3.5h-9zM754 723h4v3.5h-4zM738 750h4v3.5h-4zM744 750h9v3.5h-9zM754 750h4v3.5h-4zM738 777h4v3.5h-4zM744 777h9v3.5h-9zM754 777h4v3.5h-4zM738 804h4v3.5h-4zM744 804h9v3.5h-9zM754 804h4v3.5h-4zM738 858h4v3.5h-4zM744 858h9v3.5h-9zM754 858h4v3.5h-4zM738 885h4v3.5h-4zM744 885h9v3.5h-9zM754 885h4v3.5h-4zM738 912h4v3.5h-4zM744 912h9v3.5h-9zM754 912h4v3.5h-4zM738 939h4v3.5h-4zM744 939h9v3.5h-9zM754 939h4v3.5h-4zM738 993h4v3.5h-4zM744 993h9v3.5h-9zM754 993h4v3.5h-4zM738 1020h4v3.5h-4zM744 1020h9v3.5h-9zM754 1020h4v3.5h-4zM738 1047h4v3.5h-4zM744 1047h9v3.5h-9zM754 1047h4v3.5h-4zM738 1074h4v3.5h-4zM744 1074h9v3.5h-9zM754 1074h4v3.5h-4zM75.5 560.5h3.6v4h-3.6zM80.9 560.5h3.6v4h-3.6zM86.3 560.5h3.6v4h-3.6zM91.7 560.5h3.6v4h-3.6zM97.1 560.5h3.6v4h-3.6zM102.5 560.5h3.6v4h-3.6zM107.9 560.5h3.6v4h-3.6zM113.3 560.5h3.6v4h-3.6zM118.7 560.5h3.6v4h-3.6zM124.1 560.5h3.6v4h-3.6zM129.5 560.5h3.6v4h-3.6zM134.9 560.5h3.6v4h-3.6zM140.3 560.5h3.6v4h-3.6zM145.7 560.5h3.6v4h-3.6zM151.1 560.5h3.6v4h-3.6zM156.5 560.5h3.6v4h-3.6zM161.9 560.5h3.6v4h-3.6zM167.3 560.5h3.6v4h-3.6zM172.7 560.5h3.6v4h-3.6zM178.1 560.5h3.6v4h-3.6zM183.5 560.5h3.6v4h-3.6zM188.9 560.5h3.6v4h-3.6zM194.3 560.5h3.6v4h-3.6zM199.7 560.5h3.6v4h-3.6zM205.1 560.5h3.6v4h-3.6zM210.5 560.5h3.6v4h-3.6zM215.9 560.5h3.6v4h-3.6zM221.3 560.5h3.6v4h-3.6zM226.7 560.5h3.6v4h-3.6zM232.1 560.5h3.6v4h-3.6zM237.5 560.5h3.6v4h-3.6zM242.9 560.5h3.6v4h-3.6zM248.3 560.5h3.6v4h-3.6zM253.7 560.5h3.6v4h-3.6zM259.1 560.5h3.6v4h-3.6zM264.5 560.5h3.6v4h-3.6zM269.9 560.5h3.6v4h-3.6zM275.3 560.5h3.6v4h-3.6zM280.7 560.5h3.6v4h-3.6zM286.1 560.5h3.6v4h-3.6zM291.5 560.5h3.6v4h-3.6zM296.9 560.5h3.6v4h-3.6zM302.3 560.5h3.6v4h-3.6zM307.7 560.5h3.6v4h-3.6zM313.1 560.5h3.6v4h-3.6zM318.5 560.5h3.6v4h-3.6zM323.9 560.5h3.6v4h-3.6zM329.3 560.5h3.6v4h-3.6zM334.7 560.5h3.6v4h-3.6zM340.1 560.5h3.6v4h-3.6zM345.5 560.5h3.6v4h-3.6zM350.9 560.5h3.6v4h-3.6zM356.3 560.5h3.6v4h-3.6zM361.7 560.5h3.6v4h-3.6zM367.1 560.5h3.6v4h-3.6zM372.5 560.5h3.6v4h-3.6zM377.9 560.5h3.6v4h-3.6zM383.3 560.5h3.6v4h-3.6zM388.7 560.5h3.6v4h-3.6zM394.1 560.5h3.6v4h-3.6zM399.5 560.5h3.6v4h-3.6zM404.9 560.5h3.6v4h-3.6zM410.3 560.5h3.6v4h-3.6zM415.7 560.5h3.6v4h-3.6zM421.1 560.5h3.6v4h-3.6zM426.5 560.5h3.6v4h-3.6zM431.9 560.5h3.6v4h-3.6zM437.3 560.5h3.6v4h-3.6zM442.7 560.5h3.6v4h-3.6zM448.1 560.5h3.6v4h-3.6zM453.5 560.5h3.6v4h-3.6zM458.9 560.5h3.6v4h-3.6zM464.3 560.5h3.6v4h-3.6zM469.7 560.5h3.6v4h-3.6zM475.1 560.5h3.6v4h-3.6zM480.5 560.5h3.6v4h-3.6zM485.9 560.5h3.6v4h-3.6zM491.3 560.5h3.6v4h-3.6zM496.7 560.5h3.6v4h-3.6zM502.1 560.5h3.6v4h-3.6zM507.5 560.5h3.6v4h-3.6zM512.9 560.5h3.6v4h-3.6zM518.3 560.5h3.6v4h-3.6zM523.7 560.5h3.6v4h-3.6zM529.1 560.5h3.6v4h-3.6zM534.5 560.5h3.6v4h-3.6zM539.9 560.5h3.6v4h-3.6zM545.3 560.5h3.6v4h-3.6zM550.7 560.5h3.6v4h-3.6zM556.1 560.5h3.6v4h-3.6zM561.5 560.5h3.6v4h-3.6zM566.9 560.5h3.6v4h-3.6zM572.3 560.5h3.6v4h-3.6zM577.7 560.5h3.6v4h-3.6zM583.1 560.5h3.6v4h-3.6zM588.5 560.5h3.6v4h-3.6zM593.9 560.5h3.6v4h-3.6zM599.3 560.5h3.6v4h-3.6zM604.7 560.5h3.6v4h-3.6zM610.1 560.5h3.6v4h-3.6zM615.5 560.5h3.6v4h-3.6zM620.9 560.5h3.6v4h-3.6zM626.3 560.5h3.6v4h-3.6zM631.7 560.5h3.6v4h-3.6zM637.1 560.5h3.6v4h-3.6zM642.5 560.5h3.6v4h-3.6zM647.9 560.5h3.6v4h-3.6zM653.3 560.5h3.6v4h-3.6zM658.7 560.5h3.6v4h-3.6zM664.1 560.5h3.6v4h-3.6zM669.5 560.5h3.6v4h-3.6zM674.9 560.5h3.6v4h-3.6zM680.3 560.5h3.6v4h-3.6zM685.7 560.5h3.6v4h-3.6zM691.1 560.5h3.6v4h-3.6zM696.5 560.5h3.6v4h-3.6zM701.9 560.5h3.6v4h-3.6zM707.3 560.5h3.6v4h-3.6zM712.7 560.5h3.6v4h-3.6zM718.1 560.5h3.6v4h-3.6zM723.5 560.5h3.6v4h-3.6zM728.9 560.5h3.6v4h-3.6zM734.3 560.5h3.6v4h-3.6zM739.7 560.5h3.6v4h-3.6zM745.1 560.5h3.6v4h-3.6zM750.5 560.5h3.6v4h-3.6zM755.9 560.5h3.6v4h-3.6zM761.3 560.5h3.6v4h-3.6zM766.7 560.5h3.6v4h-3.6zM772.1 560.5h3.6v4h-3.6zM777.5 560.5h3.6v4h-3.6zM782.9 560.5h3.6v4h-3.6zM788.3 560.5h3.6v4h-3.6zM793.7 560.5h3.6v4h-3.6zM799.1 560.5h3.6v4h-3.6zM804.5 560.5h3.6v4h-3.6zM809.9 560.5h3.6v4h-3.6zM815.3 560.5h3.6v4h-3.6zM820.7 560.5h3.6v4h-3.6zM826.1 560.5h3.6v4h-3.6zM831.5 560.5h3.6v4h-3.6zM836.9 560.5h3.6v4h-3.6zM842.3 560.5h3.6v4h-3.6zM847.7 560.5h3.6v4h-3.6zM853.1 560.5h3.6v4h-3.6zM858.5 560.5h3.6v4h-3.6zM863.9 560.5h3.6v4h-3.6zM869.3 560.5h3.6v4h-3.6zM874.7 560.5h3.6v4h-3.6zM880.1 560.5h3.6v4h-3.6zM885.5 560.5h3.6v4h-3.6zM890.9 560.5h3.6v4h-3.6zM896.3 560.5h3.6v4h-3.6zM901.7 560.5h3.6v4h-3.6zM907.1 560.5h3.6v4h-3.6zM912.5 560.5h3.6v4h-3.6zM917.9 560.5h3.6v4h-3.6zM923.3 560.5h3.6v4h-3.6zM928.7 560.5h3.6v4h-3.6zM934.1 560.5h3.6v4h-3.6zM939.5 560.5h3.6v4h-3.6zM944.9 560.5h3.6v4h-3.6zM950.3 560.5h3.6v4h-3.6zM955.7 560.5h3.6v4h-3.6zM961.1 560.5h3.6v4h-3.6zM966.5 560.5h3.6v4h-3.6zM971.9 560.5h3.6v4h-3.6zM977.3 560.5h3.6v4h-3.6zM982.7 560.5h3.6v4h-3.6zM988.1 560.5h3.6v4h-3.6zM993.5 560.5h3.6v4h-3.6zM998.9 560.5h3.6v4h-3.6zM1004.3 560.5h3.6v4h-3.6zM1009.7 560.5h3.6v4h-3.6zM1015.1 560.5h3.6v4h-3.6zM1020.5 560.5h3.6v4h-3.6zM1025.9 560.5h3.6v4h-3.6zM1031.3 560.5h3.6v4h-3.6zM1036.7 560.5h3.6v4h-3.6zM1042.1 560.5h3.6v4h-3.6zM1047.5 560.5h3.6v4h-3.6zM1052.9 560.5h3.6v4h-3.6zM1058.3 560.5h3.6v4h-3.6zM1063.7 560.5h3.6v4h-3.6zM1069.1 560.5h3.6v4h-3.6zM1074.5 560.5h3.6v4h-3.6zM1079.9 560.5h3.6v4h-3.6zM1085.3 560.5h3.6v4h-3.6zM1090.7 560.5h3.6v4h-3.6zM1096.1 560.5h3.6v4h-3.6zM1101.5 560.5h3.6v4h-3.6zM1106.9 560.5h3.6v4h-3.6zM1112.3 560.5h3.6v4h-3.6zM1117.7 560.5h3.6v4h-3.6zM1123.1 560.5h3.6v4h-3.6zM1128.5 560.5h3.6v4h-3.6zM1133.9 560.5h3.6v4h-3.6zM1139.3 560.5h3.6v4h-3.6zM1144.7 560.5h3.6v4h-3.6zM1150.1 560.5h3.6v4h-3.6zM1155.5 560.5h3.6v4h-3.6zM1160.9 560.5h3.6v4h-3.6zM1166.3 560.5h3.6v4h-3.6zM1171.7 560.5h3.6v4h-3.6zM1177.1 560.5h3.6v4h-3.6zM1182.5 560.5h3.6v4h-3.6zM1187.9 560.5h3.6v4h-3.6zM1193.3 560.5h3.6v4h-3.6zM1198.7 560.5h3.6v4h-3.6zM1204.1 560.5h3.6v4h-3.6zM1209.5 560.5h3.6v4h-3.6zM1214.9 560.5h3.6v4h-3.6zM1220.3 560.5h3.6v4h-3.6zM1225.7 560.5h3.6v4h-3.6zM1231.1 560.5h3.6v4h-3.6zM1236.5 560.5h3.6v4h-3.6zM1241.9 560.5h3.6v4h-3.6zM1247.3 560.5h3.6v4h-3.6zM1252.7 560.5h3.6v4h-3.6zM1258.1 560.5h3.6v4h-3.6zM1263.5 560.5h3.6v4h-3.6zM1268.9 560.5h3.6v4h-3.6zM1274.3 560.5h3.6v4h-3.6zM1279.7 560.5h3.6v4h-3.6zM1285.1 560.5h3.6v4h-3.6zM1290.5 560.5h3.6v4h-3.6zM1295.9 560.5h3.6v4h-3.6zM1301.3 560.5h3.6v4h-3.6zM1306.7 560.5h3.6v4h-3.6zM1312.1 560.5h3.6v4h-3.6zM1317.5 560.5h3.6v4h-3.6zM1322.9 560.5h3.6v4h-3.6zM1328.3 560.5h3.6v4h-3.6zM1333.7 560.5h3.6v4h-3.6zM1339.1 560.5h3.6v4h-3.6zM1344.5 560.5h3.6v4h-3.6zM1349.9 560.5h3.6v4h-3.6zM1355.3 560.5h3.6v4h-3.6zM1360.7 560.5h3.6v4h-3.6zM1366.1 560.5h3.6v4h-3.6zM1371.5 560.5h3.6v4h-3.6zM1376.9 560.5h3.6v4h-3.6zM1382.3 560.5h3.6v4h-3.6zM1387.7 560.5h3.6v4h-3.6zM1393.1 560.5h3.6v4h-3.6zM1398.5 560.5h3.6v4h-3.6zM1403.9 560.5h3.6v4h-3.6zM1409.3 560.5h3.6v4h-3.6zM1414.7 560.5h3.6v4h-3.6zM1420.1 560.5h3.6v4h-3.6zM98.5 552.5h4v2h-4zM98.5 558h4v9h-4zM98.5 570.5h4v2h-4zM125.5 552.5h4v2h-4zM125.5 558h4v9h-4zM125.5 570.5h4v2h-4zM152.5 552.5h4v2h-4zM152.5 558h4v9h-4zM152.5 570.5h4v2h-4zM179.5 552.5h4v2h-4zM179.5 558h4v9h-4zM179.5 570.5h4v2h-4zM206.5 552.5h4v2h-4zM206.5 558h4v9h-4zM206.5 570.5h4v2h-4zM233.5 552.5h4v2h-4zM233.5 558h4v9h-4zM233.5 570.5h4v2h-4zM260.5 552.5h4v2h-4zM260.5 558h4v9h-4zM260.5 570.5h4v2h-4zM287.5 552.5h4v2h-4zM287.5 558h4v9h-4zM287.5 570.5h4v2h-4zM314.5 552.5h4v2h-4zM314.5 558h4v9h-4zM314.5 570.5h4v2h-4zM341.5 552.5h4v2h-4zM341.5 558h4v9h-4zM341.5 570.5h4v2h-4zM368.5 552.5h4v2h-4zM368.5 558h4v9h-4zM368.5 570.5h4v2h-4zM395.5 552.5h4v2h-4zM395.5 558h4v9h-4zM395.5 570.5h4v2h-4zM422.5 552.5h4v2h-4zM422.5 558h4v9h-4zM422.5 570.5h4v2h-4zM449.5 552.5h4v2h-4zM449.5 558h4v9h-4zM449.5 570.5h4v2h-4zM476.5 552.5h4v2h-4zM476.5 558h4v9h-4zM476.5 570.5h4v2h-4zM503.5 552.5h4v2h-4zM503.5 558h4v9h-4zM503.5 570.5h4v2h-4zM530.5 552.5h4v2h-4zM530.5 558h4v9h-4zM530.5 570.5h4v2h-4zM557.5 552.5h4v2h-4zM557.5 558h4v9h-4zM557.5 570.5h4v2h-4zM584.5 552.5h4v2h-4zM584.5 558h4v9h-4zM584.5 570.5h4v2h-4zM611.5 552.5h4v2h-4zM611.5 558h4v9h-4zM611.5 570.5h4v2h-4zM638.5 552.5h4v2h-4zM638.5 558h4v9h-4zM638.5 570.5h4v2h-4zM665.5 552.5h4v2h-4zM665.5 558h4v9h-4zM665.5 570.5h4v2h-4zM692.5 552.5h4v2h-4zM692.5 558h4v9h-4zM692.5 570.5h4v2h-4zM719.5 552.5h4v2h-4zM719.5 558h4v9h-4zM719.5 570.5h4v2h-4zM746.5 552.5h4v2h-4zM746.5 558h4v9h-4zM746.5 570.5h4v2h-4zM773.5 552.5h4v2h-4zM773.5 558h4v9h-4zM773.5 570.5h4v2h-4zM800.5 552.5h4v2h-4zM800.5 558h4v9h-4zM800.5 570.5h4v2h-4zM827.5 552.5h4v2h-4zM827.5 558h4v9h-4zM827.5 570.5h4v2h-4zM854.5 552.5h4v2h-4zM854.5 558h4v9h-4zM854.5 570.5h4v2h-4zM881.5 552.5h4v2h-4zM881.5 558h4v9h-4zM881.5 570.5h4v2h-4zM908.5 552.5h4v2h-4zM908.5 558h4v9h-4zM908.5 570.5h4v2h-4zM935.5 552.5h4v2h-4zM935.5 558h4v9h-4zM935.5 570.5h4v2h-4zM962.5 552.5h4v2h-4zM962.5 558h4v9h-4zM962.5 570.5h4v2h-4zM989.5 552.5h4v2h-4zM989.5 558h4v9h-4zM989.5 570.5h4v2h-4zM1016.5 552.5h4v2h-4zM1016.5 558h4v9h-4zM1016.5 570.5h4v2h-4zM1043.5 552.5h4v2h-4zM1043.5 558h4v9h-4zM1043.5 570.5h4v2h-4zM1070.5 552.5h4v2h-4zM1070.5 558h4v9h-4zM1070.5 570.5h4v2h-4zM1097.5 552.5h4v2h-4zM1097.5 558h4v9h-4zM1097.5 570.5h4v2h-4zM1124.5 552.5h4v2h-4zM1124.5 558h4v9h-4zM1124.5 570.5h4v2h-4zM1151.5 552.5h4v2h-4zM1151.5 558h4v9h-4zM1151.5 570.5h4v2h-4zM1178.5 552.5h4v2h-4zM1178.5 558h4v9h-4zM1178.5 570.5h4v2h-4zM1205.5 552.5h4v2h-4zM1205.5 558h4v9h-4zM1205.5 570.5h4v2h-4zM1232.5 552.5h4v2h-4zM1232.5 558h4v9h-4zM1232.5 570.5h4v2h-4zM1259.5 552.5h4v2h-4zM1259.5 558h4v9h-4zM1259.5 570.5h4v2h-4zM1286.5 552.5h4v2h-4zM1286.5 558h4v9h-4zM1286.5 570.5h4v2h-4zM1313.5 552.5h4v2h-4zM1313.5 558h4v9h-4zM1313.5 570.5h4v2h-4zM1340.5 552.5h4v2h-4zM1340.5 558h4v9h-4zM1340.5 570.5h4v2h-4zM1367.5 552.5h4v2h-4zM1367.5 558h4v9h-4zM1367.5 570.5h4v2h-4zM1394.5 552.5h4v2h-4zM1394.5 558h4v9h-4zM1394.5 570.5h4v2h-4z" fill="#000"/>
</g>
<g id="ch1">
<path d="M73 279.4 76 279.4 76 282.2 79 282.2 79 286.6 82 286.6 82 290.6 85 290.6 85 293.6 88 293.6 88 299.5 91 299.5 91 304.1 94 304.1 94 307 97 307 97 310.7 100 310.7 100 315.9 103 315.9 103 321.5 106 321.5 106 324.9 109 324.9 109 330 112 330 112 334.6 115 334.6 115 337.8 118 337.8 118 341.8 121 341.8 121 346 124 346 124 350.3 125.5 350.3 125.5 369.2 124 369.2 124 366.1 121 366.1 121 362 118 362 118 358.4 115 358.4 115 353.4 112 353.4 112 348.7 109 348.7 109 344.1 106 344.1 106 339.8 103 339.8 103 337.1 100 337.1 100 333.7 97 333.7 97 327.1 94 327.1 94 324.6 91 324.6 91 318.9 88 318.9 88 315.7 85 315.7 85 309.9 82 309.9 82 303.7 79 303.7 79 296.8 76 296.8 76 289.9 73 289.9ZM125.5 234.5 128.5 234.5 128.5 240.5 131.5 240.5 131.5 247.1 134.5 247.1 134.5 253.6 137.5 253.6 137.5 259 140.5 259 140.5 265.2 143.5 265.2 143.5 271 146.5 271 146.5 279.3 149.5 279.3 149.5 282.7 152.5 282.7 152.5 288.1 155.5 288.1 155.5 295.6 158.5 295.6 158.5 299 161.5 299 161.5 305.6 164.5 305.6 164.5 308.2 167.5 308.2 167.5 314.9 170.5 314.9 170.5 319.4 173.5 319.4 173.5 321.9 176.5 321.9 176.5 326.6 179.5 326.6 179.5 331.5 182.5 331.5 182.5 335.5 185.5 335.5 185.5 339.2 188.5 339.2 188.5 342.5 191.5 342.5 191.5 344 194.5 344 194.5 349 197.5 349 197.5 352.4 198.5 352.4 198.5 370 197.5 370 197.5 368.2 194.5 368.2 194.5 364.9 191.5 364.9 191.5 360.3 188.5 360.3 188.5 357.2 185.5 357.2 185.5 354.3 182.5 354.3 182.5 350.8 179.5 350.8 179.5 346.3 176.5 346.3 176.5 341.7 173.5 341.7 173.5 337.3 170.5 337.3 170.5 333.5 167.5 333.5 167.5 330.4 164.5 330.4 164.5 324.7 161.5 324.7 161.5 319.8 158.5 319.8 158.5 315.7 155.5 315.7 155.5 310 152.5 310 152.5 304.9 149.5 304.9 149.5 298.7 146.5 298.7 146.5 294.5 143.5 294.5 143.5 287.4 140.5 287.4 140.5 281.2 137.5 281.2 137.5 274 134.5 274 134.5 267.3 131.5 267.3 131.5 259.8 128.5 259.8 128.5 251.5 125.5 251.5ZM124 234.5h3v137.5h-3zM198.5 234.9 201.5 234.9 201.5 242.6 204.5 242.6 204.5 247.9 207.5 247.9 207.5 253.2 210.5 253.2 210.5 261.2 213.5 261.2 213.5 268.2 216.5 268.2 216.5 274.2 219.5 274.2 219.5 279.9 222.5 279.9 222.5 284.3 225.5 284.3 225.5 290.9 228.5 290.9 228.5 297.3 231.5 297.3 231.5 300.6 234.5 300.6 234.5 307.3 237.5 307.3 237.5 310.9 240.5 310.9 240.5 316.9 243.5 316.9 243.5 319.6 246.5 319.6 246.5 325.1 249.5 325.1 249.5 330.2 252.5 330.2 252.5 333.6 255.5 333.6 255.5 337.4 258.5 337.4 258.5 340.3 261.5 340.3 261.5 344.9 264.5 344.9 264.5 348.5 267.5 348.5 267.5 365.5 264.5 365.5 264.5 363.4 261.5 363.4 261.5 359 258.5 359 258.5 356.8 255.5 356.8 255.5 352.9 252.5 352.9 252.5 349.7 249.5 349.7 249.5 343.6 246.5 343.6 246.5 340.7 243.5 340.7 243.5 337.3 240.5 337.3 240.5 332.8 237.5 332.8 237.5 326.3 234.5 326.3 234.5 323 231.5 323 231.5 316.4 228.5 316.4 228.5 312.9 225.5 312.9 225.5 306.5 222.5 306.5 222.5 300.8 219.5 300.8 219.5 295.2 216.5 295.2 216.5 289.1 213.5 289.1 213.5 281.4 210.5 281.4 210.5 275.4 207.5 275.4 207.5 267.9 204.5 267.9 204.5 260.8 201.5 260.8 201.5 250.6 198.5 250.6ZM197 234.5h3v137.5h-3zM267.5 235.6 270.5 235.6 270.5 241.4 273.5 241.4 273.5 246.2 276.5 246.2 276.5 255.2 279.5 255.2 279.5 261.1 282.5 261.1 282.5 268.4 285.5 268.4 285.5 273.8 288.5 273.8 288.5 280.5 291.5 280.5 291.5 284.8 294.5 284.8 294.5 291.3 297.5 291.3 297.5 298.2 299.5 298.2 299.5 314.8 297.5 314.8 297.5 311.1 294.5 311.1 294.5 305.9 291.5 305.9 291.5 301 288.5 301 288.5 293.3 285.5 293.3 285.5 287.9 282.5 287.9 282.5 280.8 279.5 280.8 279.5 274.8 276.5 274.8 276.5 267.5 273.5 267.5 273.5 258.8 270.5 258.8 270.5 251.1 267.5 251.1ZM266 234.5h4.5v134.5h-4.5z" fill="#000"/>
<rect x="299.5" y="296" width="3" height="262" fill="#000"/>
<path d="M299.5 548 301.5 548 301.5 550 304.5 550 304.5 550 306.5 550 306.5 547 308.5 547 308.5 548 311.5 548 311.5 550 314.5 550 314.5 546 319.5 546 319.5 550 324.5 550 324.5 550 330.5 550 330.5 547 333.5 547 333.5 550 335.5 550 335.5 550 338.5 550 338.5 550 340.5 550 340.5 547 344.5 547 344.5 550 347.5 550 347.5 548 351.5 548 351.5 550 353.5 550 353.5 550 356.5 550 356.5 550 359.5 550 359.5 550 364.5 550 364.5 547 367.5 547 367.5 550 371.5 550 371.5 548 373.5 548 373.5 547 375.5 547 375.5 550 378.5 550 378.5 550 383.5 550 383.5 550 386.5 550 386.5 547 389.5 547 389.5 550 391.5 550 391.5 550 397.5 550 397.5 550 402.5 550 402.5 550 405.5 550 405.5 548 408.5 548 408.5 547 413.5 547 413.5 550 415.5 550 415.5 546 418.5 546 418.5 547 420.5 547 420.5 550 426.5 550 426.5 550 428.5 550 428.5 550 431.5 550 431.5 548 433.5 548 433.5 550 435.5 550 435.5 550 438.5 550 438.5 550 441.5 550 441.5 550 446.5 550 446.5 548 450.5 548 450.5 547 452.5 547 452.5 550 457.5 550 457.5 547 461.5 547 461.5 548 465.5 548 465.5 547 468.5 547 468.5 548 471.5 548 471.5 550 473.5 550 473.5 547 475.5 547 475.5 550 480.5 550 480.5 550 483.5 550 483.5 546 488.5 546 488.5 549 491.5 549 491.5 550 494.5 550 494.5 548 496.5 548 496.5 550 499.5 550 499.5 550 503.5 550 503.5 546 509.5 546 509.5 550 514.5 550 514.5 546 516.5 546 516.5 547 519.5 547 519.5 550 524.5 550 524.5 547 526.5 547 526.5 550 530.5 550 530.5 547 533.5 547 533.5 546 535.5 546 535.5 550 541.5 550 541.5 548 546.5 548 546.5 550 549.5 550 549.5 550 552.5 550 552.5 550 558.5 550 558.5 550 561.5 550 561.5 547 567.5 547 567.5 547 569.5 547 569.5 546 575.5 546 575.5 550 577.5 550 577.5 549 579.5 549 579.5 547 583.5 547 583.5 546 585.5 546 585.5 550 590.5 550 590.5 550 595.5 550 595.5 550 598.5 550 598.5 548 603.5 548 603.5 550 607.5 550 607.5 550 613.5 550 613.5 547 618.5 547 618.5 547 622.5 547 622.5 550 628.5 550 628.5 546 632.5 546 632.5 550 636.5 550 636.5 548 640.5 548 640.5 550 642.5 550 642.5 547 646.5 547 646.5 550 648.5 550 648.5 550 651.5 550 651.5 548 655.5 548 655.5 547 657.5 547 657.5 550 660.5 550 660.5 550 666.5 550 666.5 547 669.5 547 669.5 546 672.5 546 672.5 550 675.5 550 675.5 547 677.5 547 677.5 547 680.5 547 680.5 548 682.5 548 682.5 550 684.5 550 684.5 550 687.5 550 687.5 550 689.5 550 689.5 547 691.5 547 691.5 550 697.5 550 697.5 550 700.5 550 700.5 550 705.5 550 705.5 547 708.5 547 708.5 550 714.5 550 714.5 550 716.5 550 716.5 550 722.5 550 722.5 548 727.5 548 727.5 550 731.5 550 731.5 546 737.5 546 737.5 550 742.5 550 742.5 548 744.5 548 744.5 546 746.5 546 746.5 548 748.5 548 748.5 548 753.5 548 753.5 550 756.5 550 756.5 550 759.5 550 759.5 548 764.5 548 764.5 550 769.5 550 769.5 547 771.5 547 771.5 550 777.5 550 777.5 550 779.5 550 779.5 550 784.5 550 784.5 550 788.5 550 788.5 548 794.5 548 794.5 547 796.5 547 796.5 550 800.5 550 800.5 548 804.5 548 804.5 546 806.5 546 806.5 550 809.5 550 809.5 550 811.5 550 811.5 550 813.5 550 813.5 548 816.5 548 816.5 547 819.5 547 819.5 548 822.5 548 822.5 550 827.5 550 827.5 548 833.5 548 833.5 550 836.5 550 836.5 550 839.5 550 839.5 547 843.5 547 843.5 548 845.5 548 845.5 550 851.5 550 851.5 550 857.5 550 857.5 550 860.5 550 860.5 550 862.5 550 862.5 550 865.5 550 865.5 548 868.5 548 868.5 550 873.5 550 873.5 550 879.5 550 879.5 550 881.5 550 881.5 550 885.5 550 885.5 548 891.5 548 891.5 550 893.5 550 893.5 550 895.5 550 895.5 549 898.5 549 898.5 550 901.5 550 901.5 548 905.5 548 905.5 548 910.5 548 910.5 550 913.5 550 913.5 547 917.5 547 917.5 550 920.5 550 920.5 548 925.5 548 925.5 547 929.5 547 929.5 547 934.5 547 934.5 548 938.5 548 938.5 548 941.5 548 941.5 550 944.5 550 944.5 550 948.5 550 948.5 550 951.5 550 951.5 550 955.5 550 955.5 550 957.5 550 957.5 550 963.5 550 963.5 550 967.5 550 967.5 550 973.5 550 973.5 550 976.5 550 976.5 546 978.5 546 978.5 547 984.5 547 984.5 547 986.5 547 986.5 550 989.5 550 989.5 547 993.5 547 993.5 550 996.5 550 996.5 550 1000.5 550 1000.5 550 1005.5 550 1005.5 547 1008.5 547 1008.5 548 1012.5 548 1012.5 550 1018.5 550 1018.5 550 1020.5 550 1020.5 547 1025.5 547 1025.5 550 1030.5 550 1030.5 550 1032.5 550 1032.5 547 1034.5 547 1034.5 547 1040.5 547 1040.5 550 1046.5 550 1046.5 546 1049.5 546 1049.5 550 1051.5 550 1051.5 548 1053.5 548 1053.5 548 1055.5 548 1055.5 548 1059.5 548 1059.5 550 1061.5 550 1061.5 550 1064.5 550 1064.5 550 1069.5 550 1069.5 547 1072.5 547 1072.5 550 1078.5 550 1078.5 550 1081.5 550 1081.5 547 1083.5 547 1083.5 550 1086.5 550 1086.5 550 1090.5 550 1090.5 547 1093.5 547 1093.5 550 1097.5 550 1097.5 550 1099.5 550 1099.5 546 1105.5 546 1105.5 550 1109.5 550 1109.5 550 1111.5 550 1111.5 550 1113.5 550 1113.5 547 1115.5 547 1115.5 548 1119.5 548 1119.5 548 1122.5 548 1122.5 548 1127.5 548 1127.5 548 1130.5 548 1130.5 547 1133.5 547 1133.5 550 1139.5 550 1139.5 546 1145.5 546 1145.5 550 1149.5 550 1149.5 547 1155.5 547 1155.5 548 1158.5 548 1158.5 550 1160.5 550 1160.5 547 1164.5 547 1164.5 550 1169.5 550 1169.5 548 1171.5 548 1171.5 548 1173.5 548 1173.5 547 1177.5 547 1177.5 550 1180.5 550 1180.5 547 1183.5 547 1183.5 546 1185.5 546 1185.5 548 1189.5 548 1189.5 550 1194.5 550 1194.5 548 1197.5 548 1197.5 550 1200.5 550 1200.5 548 1203.5 548 1203.5 547 1208.5 547 1208.5 550 1213.5 550 1213.5 550 1216.5 550 1216.5 548 1219.5 548 1219.5 550 1224.5 550 1224.5 546 1226.5 546 1226.5 548 1228.5 548 1228.5 550 1231.5 550 1231.5 550 1236.5 550 1236.5 548 1242.5 548 1242.5 550 1246.5 550 1246.5 547 1248.5 547 1248.5 549 1254.5 549 1254.5 548 1258.5 548 1258.5 550 1261.5 550 1261.5 550 1266.5 550 1266.5 547 1269.5 547 1269.5 550 1275.5 550 1275.5 547 1278.5 547 1278.5 547 1281.5 547 1281.5 546 1283.5 546 1283.5 548 1286.5 548 1286.5 550 1292.5 550 1292.5 550 1295.5 550 1295.5 547 1298.5 547 1298.5 550 1301.5 550 1301.5 547 1304.5 547 1304.5 550 1306.5 550 1306.5 546 1308.5 546 1308.5 549 1313.5 549 1313.5 550 1316.5 550 1316.5 550 1319.5 550 1319.5 548 1324.5 548 1324.5 550 1326.5 550 1326.5 550 1329.5 550 1329.5 548 1331.5 548 1331.5 548 1336.5 548 1336.5 547 1338.5 547 1338.5 550 1341.5 550 1341.5 547 1343.5 547 1343.5 550 1346.5 550 1346.5 550 1352.5 550 1352.5 550 1354.5 550 1354.5 550 1356.5 550 1356.5 548 1362.5 548 1362.5 547 1364.5 547 1364.5 550 1368.5 550 1368.5 550 1372.5 550 1372.5 548 1375.5 548 1375.5 550 1377.5 550 1377.5 550 1380.5 550 1380.5 550 1386.5 550 1386.5 546 1392.5 546 1392.5 550 1395.5 550 1395.5 550 1401.5 550 1401.5 550 1404.5 550 1404.5 546 1407.5 546 1407.5 550 1413.5 550 1413.5 550 1417.5 550 1417.5 546 1422 546 1422 565 1420.5 565 1420.5 565 1418.5 565 1418.5 565 1415.5 565 1415.5 565 1410.5 565 1410.5 565 1407.5 565 1407.5 565 1404.5 565 1404.5 565 1402.5 565 1402.5 565 1397.5 565 1397.5 565 1395.5 565 1395.5 565 1393.5 565 1393.5 565 1391.5 565 1391.5 565 1386.5 565 1386.5 565 1383.5 565 1383.5 565 1380.5 565 1380.5 565 1377.5 565 1377.5 565 1371.5 565 1371.5 565 1366.5 565 1366.5 565 1363.5 565 1363.5 567 1358.5 567 1358.5 565 1354.5 565 1354.5 567 1349.5 567 1349.5 565 1344.5 565 1344.5 565 1338.5 565 1338.5 565 1335.5 565 1335.5 565 1333.5 565 1333.5 566 1329.5 566 1329.5 565 1326.5 565 1326.5 565 1323.5 565 1323.5 565 1320.5 565 1320.5 565 1317.5 565 1317.5 565 1314.5 565 1314.5 566 1311.5 566 1311.5 565 1306.5 565 1306.5 565 1302.5 565 1302.5 565 1300.5 565 1300.5 565 1297.5 565 1297.5 567 1295.5 567 1295.5 567 1293.5 567 1293.5 565 1291.5 565 1291.5 567 1286.5 567 1286.5 565 1280.5 565 1280.5 565 1277.5 565 1277.5 565 1275.5 565 1275.5 565 1269.5 565 1269.5 565 1267.5 565 1267.5 565 1261.5 565 1261.5 567 1258.5 567 1258.5 565 1253.5 565 1253.5 566 1250.5 566 1250.5 565 1245.5 565 1245.5 565 1242.5 565 1242.5 567 1238.5 567 1238.5 565 1235.5 565 1235.5 567 1233.5 567 1233.5 565 1229.5 565 1229.5 567 1224.5 567 1224.5 565 1221.5 565 1221.5 565 1218.5 565 1218.5 567 1215.5 567 1215.5 565 1213.5 565 1213.5 567 1211.5 567 1211.5 567 1205.5 567 1205.5 565 1203.5 565 1203.5 565 1200.5 565 1200.5 565 1198.5 565 1198.5 565 1192.5 565 1192.5 565 1188.5 565 1188.5 565 1186.5 565 1186.5 565 1182.5 565 1182.5 566 1178.5 566 1178.5 565 1175.5 565 1175.5 565 1173.5 565 1173.5 565 1170.5 565 1170.5 567 1167.5 567 1167.5 565 1163.5 565 1163.5 565 1157.5 565 1157.5 565 1152.5 565 1152.5 565 1150.5 565 1150.5 565 1147.5 565 1147.5 567 1143.5 567 1143.5 567 1141.5 567 1141.5 565 1137.5 565 1137.5 565 1135.5 565 1135.5 565 1131.5 565 1131.5 567 1129.5 567 1129.5 565 1124.5 565 1124.5 565 1121.5 565 1121.5 567 1118.5 567 1118.5 565 1112.5 565 1112.5 567 1110.5 567 1110.5 565 1108.5 565 1108.5 565 1103.5 565 1103.5 565 1099.5 565 1099.5 565 1093.5 565 1093.5 565 1089.5 565 1089.5 565 1084.5 565 1084.5 567 1082.5 567 1082.5 565 1077.5 565 1077.5 565 1073.5 565 1073.5 565 1071.5 565 1071.5 566 1065.5 566 1065.5 565 1060.5 565 1060.5 565 1057.5 565 1057.5 567 1053.5 567 1053.5 565 1051.5 565 1051.5 567 1046.5 567 1046.5 565 1044.5 565 1044.5 565 1041.5 565 1041.5 565 1035.5 565 1035.5 565 1032.5 565 1032.5 565 1027.5 565 1027.5 565 1021.5 565 1021.5 565 1017.5 565 1017.5 565 1015.5 565 1015.5 567 1009.5 567 1009.5 565 1007.5 565 1007.5 565 1002.5 565 1002.5 565 997.5 565 997.5 565 991.5 565 991.5 565 987.5 565 987.5 565 984.5 565 984.5 565 981.5 565 981.5 565 975.5 565 975.5 566 972.5 566 972.5 565 970.5 565 970.5 565 964.5 565 964.5 565 962.5 565 962.5 565 960.5 565 960.5 565 958.5 565 958.5 565 953.5 565 953.5 566 947.5 566 947.5 565 945.5 565 945.5 565 939.5 565 939.5 565 935.5 565 935.5 567 933.5 567 933.5 565 931.5 565 931.5 565 928.5 565 928.5 565 925.5 565 925.5 567 922.5 567 922.5 565 920.5 565 920.5 565 918.5 565 918.5 565 916.5 565 916.5 565 911.5 565 911.5 565 908.5 565 908.5 565 903.5 565 903.5 565 898.5 565 898.5 565 896.5 565 896.5 565 894.5 565 894.5 567 892.5 567 892.5 565 886.5 565 886.5 565 883.5 565 883.5 565 878.5 565 878.5 565 875.5 565 875.5 565 872.5 565 872.5 565 869.5 565 869.5 565 867.5 565 867.5 567 865.5 567 865.5 565 863.5 565 863.5 565 858.5 565 858.5 567 855.5 567 855.5 565 849.5 565 849.5 565 847.5 565 847.5 565 842.5 565 842.5 567 840.5 567 840.5 565 834.5 565 834.5 567 831.5 567 831.5 565 828.5 565 828.5 566 826.5 566 826.5 567 823.5 567 823.5 565 820.5 565 820.5 567 817.5 567 817.5 565 812.5 565 812.5 565 810.5 565 810.5 565 806.5 565 806.5 565 804.5 565 804.5 567 802.5 567 802.5 565 799.5 565 799.5 567 793.5 567 793.5 565 789.5 565 789.5 565 784.5 565 784.5 565 779.5 565 779.5 565 777.5 565 777.5 565 772.5 565 772.5 565 770.5 565 770.5 565 768.5 565 768.5 565 766.5 565 766.5 565 762.5 565 762.5 565 756.5 565 756.5 565 754.5 565 754.5 565 751.5 565 751.5 565 748.5 565 748.5 565 743.5 565 743.5 565 739.5 565 739.5 565 737.5 565 737.5 565 735.5 565 735.5 565 732.5 565 732.5 565 729.5 565 729.5 568 725.5 568 725.5 565 719.5 565 719.5 565 713.5 565 713.5 565 710.5 565 710.5 565 704.5 565 704.5 565 700.5 565 700.5 565 696.5 565 696.5 565 693.5 565 693.5 565 690.5 565 690.5 565 688.5 565 688.5 565 683.5 565 683.5 567 680.5 567 680.5 565 677.5 565 677.5 565 674.5 565 674.5 565 670.5 565 670.5 567 668.5 567 668.5 567 666.5 567 666.5 565 661.5 565 661.5 565 658.5 565 658.5 565 652.5 565 652.5 567 647.5 567 647.5 568 644.5 568 644.5 565 642.5 565 642.5 567 640.5 567 640.5 565 636.5 565 636.5 565 633.5 565 633.5 565 630.5 565 630.5 567 628.5 567 628.5 565 622.5 565 622.5 565 620.5 565 620.5 567 616.5 567 616.5 565 612.5 565 612.5 565 610.5 565 610.5 565 607.5 565 607.5 565 604.5 565 604.5 565 598.5 565 598.5 565 595.5 565 595.5 565 591.5 565 591.5 565 589.5 565 589.5 565 587.5 565 587.5 565 585.5 565 585.5 565 583.5 565 583.5 565 578.5 565 578.5 565 574.5 565 574.5 567 570.5 567 570.5 565 567.5 565 567.5 565 564.5 565 564.5 565 561.5 565 561.5 565 557.5 565 557.5 565 554.5 565 554.5 565 550.5 565 550.5 567 547.5 567 547.5 565 544.5 565 544.5 567 540.5 567 540.5 565 535.5 565 535.5 565 529.5 565 529.5 565 524.5 565 524.5 565 519.5 565 519.5 565 516.5 565 516.5 565 513.5 565 513.5 565 511.5 565 511.5 566 507.5 566 507.5 565 501.5 565 501.5 565 499.5 565 499.5 565 496.5 565 496.5 565 494.5 565 494.5 565 492.5 565 492.5 565 488.5 565 488.5 565 486.5 565 486.5 566 481.5 566 481.5 565 479.5 565 479.5 567 477.5 567 477.5 565 474.5 565 474.5 565 469.5 565 469.5 565 466.5 565 466.5 565 464.5 565 464.5 567 461.5 567 461.5 565 457.5 565 457.5 565 454.5 565 454.5 565 450.5 565 450.5 567 446.5 567 446.5 565 440.5 565 440.5 565 434.5 565 434.5 565 431.5 565 431.5 565 428.5 565 428.5 565 423.5 565 423.5 565 417.5 565 417.5 565 412.5 565 412.5 565 406.5 565 406.5 565 401.5 565 401.5 567 396.5 567 396.5 565 394.5 565 394.5 565 391.5 565 391.5 567 388.5 567 388.5 565 385.5 565 385.5 567 382.5 567 382.5 567 380.5 567 380.5 567 375.5 567 375.5 566 369.5 566 369.5 565 365.5 565 365.5 565 361.5 565 361.5 565 359.5 565 359.5 565 356.5 565 356.5 565 351.5 565 351.5 565 348.5 565 348.5 566 342.5 566 342.5 567 340.5 567 340.5 567 336.5 567 336.5 565 332.5 565 332.5 565 327.5 565 327.5 565 321.5 565 321.5 565 318.5 565 318.5 567 315.5 567 315.5 565 311.5 565 311.5 565 309.5 565 309.5 565 306.5 565 306.5 565 304.5 565 304.5 565 299.5 565Z" fill="#000"/>
</g>
<g id="ch2">
<path d="M73 682.3 76 682.3 76 686.3 79 686.3 79 688.4 82 688.4 82 692.2 85 692.2 85 697.1 88 697.1 88 699.5 91 699.5 91 705.6 94 705.6 94 710.3 97 710.3 97 713.6 100 713.6 100 718.6 103 718.6 103 721.5 106 721.5 106 726.6 109 726.6 109 731.4 112 731.4 112 736 115 736 115 738.7 118 738.7 118 742.8 121 742.8 121 748.9 124 748.9 124 752.7 125.5 752.7 125.5 771.4 124 771.4 124 767.7 121 767.7 121 762.5 118 762.5 118 759.3 115 759.3 115 756.3 112 756.3 112 751.1 109 751.1 109 747.5 106 747.5 106 743.7 103 743.7 103 739 100 739 100 735.6 97 735.6 97 730.1 94 730.1 94 726.3 91 726.3 91 721.6 88 721.6 88 716.6 85 716.6 85 711.2 82 711.2 82 705.4 79 705.4 79 698.9 76 698.9 76 691.5 73 691.5ZM125.5 636.6 128.5 636.6 128.5 644.1 131.5 644.1 131.5 648.2 134.5 648.2 134.5 656.3 137.5 656.3 137.5 661.9 140.5 661.9 140.5 668 143.5 668 143.5 674 146.5 674 146.5 679.9 149.5 679.9 149.5 684.6 152.5 684.6 152.5 691.7 155.5 691.7 155.5 697 158.5 697 158.5 701.2 161.5 701.2 161.5 705.5 164.5 705.5 164.5 712.2 167.5 712.2 167.5 716 170.5 716 170.5 720.7 173.5 720.7 173.5 724 176.5 724 176.5 729.4 179.5 729.4 179.5 733.1 182.5 733.1 182.5 736.5 185.5 736.5 185.5 741.3 188.5 741.3 188.5 744.8 191.5 744.8 191.5 748.2 194.5 748.2 194.5 749.8 197.5 749.8 197.5 754.6 198.5 754.6 198.5 773.2 197.5 773.2 197.5 769.2 194.5 769.2 194.5 766 191.5 766 191.5 763.3 188.5 763.3 188.5 758.4 185.5 758.4 185.5 755 182.5 755 182.5 751.4 179.5 751.4 179.5 747.8 176.5 747.8 176.5 744.6 173.5 744.6 173.5 739.9 170.5 739.9 170.5 736.3 167.5 736.3 167.5 732 164.5 732 164.5 728 161.5 728 161.5 722.8 158.5 722.8 158.5 718 155.5 718 155.5 713.3 152.5 713.3 152.5 706.5 149.5 706.5 149.5 702.2 146.5 702.2 146.5 696 143.5 696 143.5 690.1 140.5 690.1 140.5 682.8 137.5 682.8 137.5 677.2 134.5 677.2 134.5 669.3 131.5 669.3 131.5 660.6 128.5 660.6 128.5 651.4 125.5 651.4ZM124 636.5h3v137.5h-3zM198.5 636.8 201.5 636.8 201.5 644.2 204.5 644.2 204.5 648.4 207.5 648.4 207.5 655.3 210.5 655.3 210.5 662.1 213.5 662.1 213.5 669.6 216.5 669.6 216.5 674.7 219.5 674.7 219.5 681.4 222.5 681.4 222.5 686.9 225.5 686.9 225.5 692.2 228.5 692.2 228.5 699.4 231.5 699.4 231.5 703.2 234.5 703.2 234.5 709.5 237.5 709.5 237.5 713.3 240.5 713.3 240.5 717 243.5 717 243.5 722.1 246.5 722.1 246.5 726.6 249.5 726.6 249.5 729.9 252.5 729.9 252.5 736.1 255.5 736.1 255.5 739.8 258.5 739.8 258.5 743 261.5 743 261.5 744.8 264.5 744.8 264.5 749.9 267.5 749.9 267.5 767 264.5 767 264.5 763.9 261.5 763.9 261.5 762.1 258.5 762.1 258.5 756.9 255.5 756.9 255.5 754.9 252.5 754.9 252.5 751.8 249.5 751.8 249.5 746.3 246.5 746.3 246.5 742.3 243.5 742.3 243.5 737.3 240.5 737.3 240.5 734.8 237.5 734.8 237.5 727.9 234.5 727.9 234.5 723.6 231.5 723.6 231.5 718.9 228.5 718.9 228.5 714.7 225.5 714.7 225.5 708.9 222.5 708.9 222.5 702.7 219.5 702.7 219.5 697.8 216.5 697.8 216.5 691.5 213.5 691.5 213.5 684 210.5 684 210.5 677.2 207.5 677.2 207.5 670.2 204.5 670.2 204.5 661.5 201.5 661.5 201.5 651.1 198.5 651.1ZM197 636.5h3v137.5h-3zM267.5 637.6 270.5 637.6 270.5 644 273.5 644 273.5 648.5 276.5 648.5 276.5 656.6 279.5 656.6 279.5 662.6 282.5 662.6 282.5 668.4 285.5 668.4 285.5 675.5 288.5 675.5 288.5 681.4 291.5 681.4 291.5 688.9 294.5 688.9 294.5 692.7 297.5 692.7 297.5 699.3 299.5 699.3 299.5 717.1 297.5 717.1 297.5 712.3 294.5 712.3 294.5 706.6 291.5 706.6 291.5 701.1 288.5 701.1 288.5 696.3 285.5 696.3 285.5 689.9 282.5 689.9 282.5 684.6 279.5 684.6 279.5 677.1 276.5 677.1 276.5 671.1 273.5 671.1 273.5 660.9 270.5 660.9 270.5 652.2 267.5 652.2ZM266 636.5h4.5v134.5h-4.5z" fill="#000"/>
<path d="M298 700h4v62h-4zM301.5 758h3.5v100h-3.5zM303.6 855h5v56h-5zM307.5 908h4.5v23h-4.5zM310.5 928h4.5v22h-4.5zM312 949.5 315 949.5 315 948.8 318 948.8 318 948.6 321 948.6 321 949.8 324 949.8 324 949.4 327 949.4 327 950.3 330 950.3 330 947.8 333 947.8 333 950.3 336 950.3 336 949 339 949 339 949.9 340 949.9 340 966.1 339 966.1 339 966.5 336 966.5 336 964 333 964 333 964.4 330 964.4 330 963.7 327 963.7 327 964.3 324 964.3 324 964.9 321 964.9 321 964.3 318 964.3 318 963.9 315 963.9 315 963.6 312 963.6ZM338 648h2v318h-2zM338 755h8v58h-8zM338 813h6v17h-6zM341.5 640 344.5 640 344.5 643 349.5 643 349.5 648 357.5 648 357.5 644 360.5 644 360.5 645 363.5 645 363.5 643 364.5 643 364.5 648 366.5 648 366.5 643 368.5 643 368.5 647 376.5 647 376.5 640 378.5 640 378.5 644 379.5 644 379.5 648 382.5 648 382.5 648 388.5 648 388.5 648 396.5 648 396.5 645 398.5 645 398.5 645 403.5 645 403.5 647 406.5 647 406.5 640 408.5 640 408.5 647 413.5 647 413.5 644 416.5 644 416.5 644 422.5 644 422.5 644 424.5 644 424.5 643 426.5 643 426.5 648 428.5 648 428.5 648 430.5 648 430.5 643 433.5 643 433.5 653 434.5 653 434.5 639 435.5 639 435.5 637 436.5 637 436.5 644 437.5 644 437.5 643 439.5 643 439.5 643 443.5 643 443.5 648 449.5 648 449.5 643 451.5 643 451.5 644 456.5 644 456.5 647 458.5 647 458.5 656 459.5 656 459.5 643 464.5 643 464.5 644 467.5 644 467.5 648 473.5 648 473.5 647 478.5 647 478.5 657 479.5 657 479.5 645 485.5 645 485.5 647 490.5 647 490.5 647 493.5 647 493.5 643 494.5 643 494.5 645 502.5 645 502.5 647 505.5 647 505.5 643 506.5 643 506.5 644 514.5 644 514.5 645 518.5 645 518.5 648 526.5 648 526.5 645 528.5 645 528.5 648 530.5 648 530.5 648 532.5 648 532.5 644 534.5 644 534.5 643 536.5 643 536.5 648 540.5 648 540.5 647 544.5 647 544.5 643 545.5 643 545.5 648 551.5 648 551.5 639 553.5 639 553.5 639 554.5 639 554.5 643 562.5 643 562.5 643 564.5 643 564.5 644 566.5 644 566.5 643 569.5 643 569.5 645 574.5 645 574.5 647 575.5 647 575.5 643 581.5 643 581.5 643 583.5 643 583.5 648 591.5 648 591.5 645 594.5 645 594.5 640 596.5 640 596.5 643 599.5 643 599.5 643 602.5 643 602.5 645 604.5 645 604.5 651 605.5 651 605.5 644 609.5 644 609.5 643 612.5 643 612.5 644 615.5 644 615.5 643 618.5 643 618.5 640 620.5 640 620.5 643 625.5 643 625.5 651 626.5 651 626.5 643 634.5 643 634.5 644 640.5 644 640.5 644 642.5 644 642.5 645 644.5 645 644.5 645 647.5 645 647.5 647 650.5 647 650.5 643 653.5 643 653.5 644 657.5 644 657.5 644 663.5 644 663.5 643 666.5 643 666.5 640 669.5 640 669.5 644 672.5 644 672.5 658 673.5 658 673.5 643 675.5 643 675.5 643 681.5 643 681.5 641 684.5 641 684.5 648 688.5 648 688.5 643 689.5 643 689.5 640 692.5 640 692.5 648 696.5 648 696.5 643 697.5 643 697.5 643 702.5 643 702.5 643 710.5 643 710.5 648 712.5 648 712.5 643 717.5 643 717.5 643 725.5 643 725.5 643 731 643 731 754 727.5 754 727.5 759 719.5 759 719.5 754 715.5 754 715.5 759 712.5 759 712.5 758 708.5 758 708.5 756 705.5 756 705.5 759 703.5 759 703.5 759 701.5 759 701.5 758 693.5 758 693.5 754 691.5 754 691.5 763 688.5 763 688.5 754 686.5 754 686.5 758 683.5 758 683.5 755 681.5 755 681.5 751 680.5 751 680.5 759 677.5 759 677.5 759 673.5 759 673.5 755 671.5 755 671.5 750 670.5 750 670.5 759 667.5 759 667.5 754 664.5 754 664.5 754 660.5 754 660.5 759 654.5 759 654.5 755 652.5 755 652.5 763 649.5 763 649.5 758 647.5 758 647.5 759 645.5 759 645.5 756 637.5 756 637.5 756 635.5 756 635.5 758 632.5 758 632.5 759 629.5 759 629.5 754 628.5 754 628.5 756 625.5 756 625.5 762 622.5 762 622.5 756 620.5 756 620.5 758 614.5 758 614.5 756 606.5 756 606.5 759 602.5 759 602.5 763 599.5 763 599.5 755 597.5 755 597.5 759 595.5 759 595.5 756 590.5 756 590.5 759 584.5 759 584.5 756 581.5 756 581.5 762 579.5 762 579.5 756 577.5 756 577.5 754 575.5 754 575.5 758 573.5 758 573.5 750 572.5 750 572.5 759 569.5 759 569.5 756 567.5 756 567.5 758 563.5 758 563.5 759 561.5 759 561.5 759 557.5 759 557.5 756 552.5 756 552.5 759 547.5 759 547.5 754 541.5 754 541.5 754 539.5 754 539.5 759 533.5 759 533.5 754 530.5 754 530.5 759 529.5 759 529.5 759 527.5 759 527.5 763 524.5 763 524.5 754 521.5 754 521.5 761 520.5 761 520.5 764 518.5 764 518.5 755 514.5 755 514.5 756 511.5 756 511.5 761 509.5 761 509.5 759 507.5 759 507.5 756 506.5 756 506.5 754 502.5 754 502.5 759 498.5 759 498.5 763 497.5 763 497.5 758 496.5 758 496.5 756 488.5 756 488.5 754 484.5 754 484.5 754 482.5 754 482.5 754 478.5 754 478.5 763 475.5 763 475.5 751 474.5 751 474.5 755 470.5 755 470.5 756 465.5 756 465.5 754 462.5 754 462.5 755 457.5 755 457.5 754 449.5 754 449.5 758 441.5 758 441.5 754 437.5 754 437.5 756 435.5 756 435.5 758 433.5 758 433.5 755 432.5 755 432.5 758 429.5 758 429.5 756 428.5 756 428.5 758 423.5 758 423.5 759 421.5 759 421.5 759 418.5 759 418.5 754 416.5 754 416.5 758 408.5 758 408.5 758 400.5 758 400.5 750 399.5 750 399.5 754 393.5 754 393.5 758 392.5 758 392.5 756 389.5 756 389.5 754 386.5 754 386.5 755 384.5 755 384.5 762 381.5 762 381.5 758 379.5 758 379.5 754 371.5 754 371.5 751 370.5 751 370.5 759 366.5 759 366.5 754 361.5 754 361.5 754 355.5 754 355.5 759 352.5 759 352.5 764 349.5 764 349.5 759 341.5 759ZM728.5 755h3.5v24h-3.5zM730.5 776h3.5v94h-3.5zM733.5 868h3.5v48h-3.5zM736 914h3.5v28h-3.5zM738.5 938h3.5v16h-3.5zM740 950.7 743 950.7 743 950.7 746 950.7 746 953.3 749 953.3 749 953.2 752 953.2 752 953.1 755 953.1 755 952.6 758 952.6 758 953.3 761 953.3 761 953.3 764 953.3 764 951.8 767 951.8 767 951.4 770 951.4 770 951.1 773 951.1 773 953.3 776 953.3 776 952.9 779 952.9 779 952.4 782 952.4 782 952.9 785 952.9 785 952.2 788 952.2 788 953.3 791 953.3 791 951.8 794 951.8 794 951.8 797 951.8 797 966.9 794 966.9 794 969.4 791 969.4 791 968 788 968 788 968 785 968 785 968.6 782 968.6 782 968 779 968 779 968.1 776 968.1 776 968.1 773 968.1 773 968.1 770 968.1 770 969.1 767 969.1 767 969.4 764 969.4 764 966.6 761 966.6 761 968.5 758 968.5 758 969.1 755 969.1 755 969.5 752 969.5 752 968.2 749 968.2 749 969.2 746 969.2 746 968.5 743 968.5 743 966.8 740 966.8ZM794.1 648h5.4v67h-5.4zM794.1 648h2.2v318h-2.2zM795.6 711h4.5v143.7h-4.5zM800.1 847.7h4.5v65.5h-4.5zM803.1 906.2h4.5v32h-4.5zM806.1 931.3h4.5v17.7h-4.5zM809.1 942h4.5v11.6h-4.5zM812.1 946.6h4.5v9h-4.5zM813.6 952.6 816.6 952.6 816.6 951.4 819.6 951.4 819.6 950.6 822.6 950.6 822.6 950.7 825.6 950.7 825.6 950.7 828.6 950.7 828.6 952 831.6 952 831.6 951.4 834.6 951.4 834.6 951.7 837.6 951.7 837.6 953.2 840.6 953.2 840.6 950.6 843.6 950.6 843.6 953.2 846.6 953.2 846.6 950.6 849.6 950.6 849.6 953.4 852.6 953.4 852.6 951.4 855.6 951.4 855.6 951.8 858.6 951.8 858.6 951.1 861.6 951.1 861.6 953.3 864.6 953.3 864.6 950.6 867.6 950.6 867.6 952.3 869.4 952.3 869.4 967.5 867.6 967.5 867.6 969 864.6 969 864.6 968.9 861.6 968.9 861.6 966.5 858.6 966.5 858.6 968.8 855.6 968.8 855.6 968.1 852.6 968.1 852.6 969 849.6 969 849.6 966.6 846.6 966.6 846.6 969.1 843.6 969.1 843.6 966.6 840.6 966.6 840.6 968.1 837.6 968.1 837.6 969.3 834.6 969.3 834.6 968.3 831.6 968.3 831.6 968.3 828.6 968.3 828.6 966.6 825.6 966.6 825.6 969.1 822.6 969.1 822.6 969.3 819.6 969.3 819.6 969.3 816.6 969.3 816.6 967.5 813.6 967.5ZM868.4 644h3.6v151h-3.6zM868.4 644h2.2v322h-2.2zM869.9 791h4.5v97.9h-4.5zM874.4 881.9h4.5v45.9h-4.5zM877.4 920.9h4.5v23.7h-4.5zM880.4 937.5h4.5v14.1h-4.5zM883.4 944.7h4.5v10.1h-4.5zM886.4 947.7h4.5v8.3h-4.5zM887.9 952.5 890.9 952.5 890.9 951.2 893.9 951.2 893.9 951.7 896.9 951.7 896.9 952.5 899.9 952.5 899.9 952.1 902.9 952.1 902.9 950.9 905.9 950.9 905.9 953.1 908.9 953.1 908.9 952.1 911.9 952.1 911.9 952.5 914.9 952.5 914.9 951.5 917.9 951.5 917.9 951.9 920.9 951.9 920.9 950.9 923.9 950.9 923.9 952.8 926.9 952.8 926.9 952.5 929.9 952.5 929.9 951.5 932.9 951.5 932.9 951.9 935.9 951.9 935.9 951.2 938.9 951.2 938.9 952.8 940.9 952.8 940.9 967.7 938.9 967.7 938.9 967.2 935.9 967.2 935.9 966.7 932.9 966.7 932.9 968.9 929.9 968.9 929.9 968.7 926.9 968.7 926.9 967.4 923.9 967.4 923.9 967.1 920.9 967.1 920.9 967.3 917.9 967.3 917.9 967.3 914.9 967.3 914.9 967.2 911.9 967.2 911.9 968.9 908.9 968.9 908.9 967.3 905.9 967.3 905.9 967 902.9 967 902.9 967.2 899.9 967.2 899.9 968.5 896.9 968.5 896.9 968.1 893.9 968.1 893.9 967.3 890.9 967.3 890.9 966.5 887.9 966.5ZM939.9 643h1.3v105h-1.3zM939.9 643h1.3v323h-1.3zM941.4 744h4.5v124.8h-4.5zM945.9 861.8h4.5v57.4h-4.5zM948.9 912.3h4.5v28.6h-4.5zM951.9 933.8h4.5v16.2h-4.5zM954.9 943.1h4.5v11h-4.5zM957.9 947h4.5v8.7h-4.5zM959.4 950.5 962.4 950.5 962.4 952.4 965.4 952.4 965.4 950.5 968.4 950.5 968.4 953.1 971.4 953.1 971.4 951.2 974.4 951.2 974.4 951.1 977.4 951.1 977.4 952.6 980.4 952.6 980.4 951.3 983.4 951.3 983.4 951 986.4 951 986.4 952 989.4 952 989.4 953.3 992.4 953.3 992.4 953.1 995.4 953.1 995.4 950.9 998.4 950.9 998.4 950.7 1001.4 950.7 1001.4 950.7 1004.4 950.7 1004.4 951.4 1007.4 951.4 1007.4 952.9 1009.4 952.9 1009.4 966.9 1007.4 966.9 1007.4 969.3 1004.4 969.3 1004.4 966.9 1001.4 966.9 1001.4 967.5 998.4 967.5 998.4 969.4 995.4 969.4 995.4 967.1 992.4 967.1 992.4 969.2 989.4 969.2 989.4 967.6 986.4 967.6 986.4 966.5 983.4 966.5 983.4 967.9 980.4 967.9 980.4 968.3 977.4 968.3 977.4 967.6 974.4 967.6 974.4 967.5 971.4 967.5 971.4 968.9 968.4 968.9 968.4 967.7 965.4 967.7 965.4 969.2 962.4 969.2 962.4 967.6 959.4 967.6ZM1008.4 643h3.6v47h-3.6zM1008.4 643h2.2v323h-2.2zM1009.9 686h4.5v158h-4.5zM1014.4 837h4.5v71.6h-4.5zM1017.4 901.6h4.5v34.7h-4.5zM1020.4 929.3h4.5v18.8h-4.5zM1023.4 941.1h4.5v12.1h-4.5zM1026.4 946.2h4.5v9.2h-4.5zM1027.9 951.5 1030.9 951.5 1030.9 951.3 1033.9 951.3 1033.9 952.1 1036.9 952.1 1036.9 953.1 1039.9 953.1 1039.9 950.7 1042.9 950.7 1042.9 952.9 1045.9 952.9 1045.9 953.4 1048.9 953.4 1048.9 953 1051.9 953 1051.9 951.9 1054.9 951.9 1054.9 951.8 1057.9 951.8 1057.9 951.9 1060.9 951.9 1060.9 953.3 1063.9 953.3 1063.9 953.3 1066.9 953.3 1066.9 951.2 1069.9 951.2 1069.9 952 1072.9 952 1072.9 952.5 1075.9 952.5 1075.9 952.6 1078.9 952.6 1078.9 950.6 1081.8 950.6 1081.8 967.9 1078.9 967.9 1078.9 968.9 1075.9 968.9 1075.9 968.2 1072.9 968.2 1072.9 967 1069.9 967 1069.9 969.3 1066.9 969.3 1066.9 967.4 1063.9 967.4 1063.9 967.2 1060.9 967.2 1060.9 969.3 1057.9 969.3 1057.9 968.8 1054.9 968.8 1054.9 968.1 1051.9 968.1 1051.9 966.9 1048.9 966.9 1048.9 967.4 1045.9 967.4 1045.9 967.5 1042.9 967.5 1042.9 966.7 1039.9 966.7 1039.9 967.3 1036.9 967.3 1036.9 967.6 1033.9 967.6 1033.9 969.3 1030.9 969.3 1030.9 969.1 1027.9 969.1ZM1080.8 644h4v138h-4zM1080.8 644h2.2v322h-2.2zM1082.3 778h4.5v105.4h-4.5zM1086.8 876.4h4.5v49.1h-4.5zM1089.8 918.5h4.5v25h-4.5zM1092.8 936.5h4.5v14.7h-4.5zM1095.8 944.2h4.5v10.3h-4.5zM1098.8 947.5h4.5v8.4h-4.5zM1100.3 951.7 1103.3 951.7 1103.3 952.1 1106.3 952.1 1106.3 950.7 1109.3 950.7 1109.3 953.4 1112.3 953.4 1112.3 952.3 1115.3 952.3 1115.3 953 1118.3 953 1118.3 951.3 1121.3 951.3 1121.3 953.4 1124.3 953.4 1124.3 951.1 1127.3 951.1 1127.3 951.5 1130.3 951.5 1130.3 953 1133.3 953 1133.3 952.6 1136.3 952.6 1136.3 952.7 1139.3 952.7 1139.3 952.4 1142.3 952.4 1142.3 951.6 1145.3 951.6 1145.3 952.4 1148.3 952.4 1148.3 951.8 1151.3 951.8 1151.3 951.9 1153.2 951.9 1153.2 967.9 1151.3 967.9 1151.3 967.8 1148.3 967.8 1148.3 969.2 1145.3 969.2 1145.3 967.5 1142.3 967.5 1142.3 967.9 1139.3 967.9 1139.3 968.4 1136.3 968.4 1136.3 966.6 1133.3 966.6 1133.3 966.5 1130.3 966.5 1130.3 967.9 1127.3 967.9 1127.3 968 1124.3 968 1124.3 967.2 1121.3 967.2 1121.3 967.1 1118.3 967.1 1118.3 967 1115.3 967 1115.3 966.7 1112.3 966.7 1112.3 968.8 1109.3 968.8 1109.3 969.4 1106.3 969.4 1106.3 967.1 1103.3 967.1 1103.3 969 1100.3 969ZM1152.2 642h2.5v83h-2.5zM1152.2 642h2.2v324h-2.2zM1153.7 721h4.5v138h-4.5zM1158.2 852h4.5v63.1h-4.5zM1161.2 908h4.5v31h-4.5zM1164.2 932h4.5v17.3h-4.5zM1167.2 942.3h4.5v11.4h-4.5zM1170.2 946.7h4.5v8.9h-4.5zM1171.7 952.5 1174.7 952.5 1174.7 952.8 1177.7 952.8 1177.7 950.9 1180.7 950.9 1180.7 953 1183.7 953 1183.7 950.5 1186.7 950.5 1186.7 953 1189.7 953 1189.7 952.8 1192.7 952.8 1192.7 953 1195.7 953 1195.7 952.6 1198.7 952.6 1198.7 951.4 1201.7 951.4 1201.7 951.8 1204.7 951.8 1204.7 950.7 1207.7 950.7 1207.7 952.4 1210.7 952.4 1210.7 952 1213.7 952 1213.7 951.8 1216.7 951.8 1216.7 952.1 1219.7 952.1 1219.7 952 1222.7 952 1222.7 951.6 1223.2 951.6 1223.2 969.4 1222.7 969.4 1222.7 967.9 1219.7 967.9 1219.7 966.8 1216.7 966.8 1216.7 968.4 1213.7 968.4 1213.7 967.3 1210.7 967.3 1210.7 966.5 1207.7 966.5 1207.7 968 1204.7 968 1204.7 968 1201.7 968 1201.7 967.5 1198.7 967.5 1198.7 966.8 1195.7 966.8 1195.7 969.3 1192.7 969.3 1192.7 968.3 1189.7 968.3 1189.7 968.7 1186.7 968.7 1186.7 967.4 1183.7 967.4 1183.7 968 1180.7 968 1180.7 969.1 1177.7 969.1 1177.7 969.3 1174.7 969.3 1174.7 969.2 1171.7 969.2ZM1222.2 642h1.6v28h-1.6zM1222.2 642h1.6v324h-1.6zM1223.7 666h4.5v169.4h-4.5zM1228.2 828.4h4.5v76.5h-4.5zM1231.2 898h4.5v36.8h-4.5zM1234.2 927.7h4.5v19.7h-4.5zM1237.2 940.5h4.5v12.5h-4.5zM1240.2 945.9h4.5v9.3h-4.5zM1241.7 952.7 1244.7 952.7 1244.7 953.2 1247.7 953.2 1247.7 952.8 1250.7 952.8 1250.7 951.1 1253.7 951.1 1253.7 950.8 1256.7 950.8 1256.7 952.2 1259.7 952.2 1259.7 950.7 1262.7 950.7 1262.7 952.1 1265.7 952.1 1265.7 951 1268.7 951 1268.7 952.5 1271.7 952.5 1271.7 952.9 1274.7 952.9 1274.7 951.1 1277.7 951.1 1277.7 950.7 1280.7 950.7 1280.7 951.1 1283.7 951.1 1283.7 951.1 1286.7 951.1 1286.7 953 1289.7 953 1289.7 952.6 1292.7 952.6 1292.7 950.7 1295 950.7 1295 966.6 1292.7 966.6 1292.7 967.2 1289.7 967.2 1289.7 968.9 1286.7 968.9 1286.7 968.9 1283.7 968.9 1283.7 968.6 1280.7 968.6 1280.7 968.6 1277.7 968.6 1277.7 969.4 1274.7 969.4 1274.7 969 1271.7 969 1271.7 967.1 1268.7 967.1 1268.7 968 1265.7 968 1265.7 967.4 1262.7 967.4 1262.7 968 1259.7 968 1259.7 968.2 1256.7 968.2 1256.7 968 1253.7 968 1253.7 967.3 1250.7 967.3 1250.7 969 1247.7 969 1247.7 968.9 1244.7 968.9 1244.7 967.8 1241.7 967.8ZM1294 642h3.5v129h-3.5zM1294 642h2.2v324h-2.2zM1295.5 767h4.5v111.7h-4.5zM1300 871.7h4.5v51.8h-4.5zM1303 916.5h4.5v26.2h-4.5zM1306 935.6h4.5v15.2h-4.5zM1309 943.9h4.5v10.5h-4.5zM1312 947.4h4.5v8.5h-4.5zM1313.5 952 1316.5 952 1316.5 951.1 1319.5 951.1 1319.5 950.8 1322.5 950.8 1322.5 951.6 1325.5 951.6 1325.5 951.5 1328.5 951.5 1328.5 950.6 1331.5 950.6 1331.5 952.6 1334.5 952.6 1334.5 951.4 1337.5 951.4 1337.5 950.5 1340.5 950.5 1340.5 953.1 1343.5 953.1 1343.5 953.3 1346.5 953.3 1346.5 951.2 1349.5 951.2 1349.5 950.9 1352.5 950.9 1352.5 950.7 1355.5 950.7 1355.5 952 1358.5 952 1358.5 952.4 1361.5 952.4 1361.5 953 1364.5 953 1364.5 952.8 1364.9 952.8 1364.9 968.5 1364.5 968.5 1364.5 968.9 1361.5 968.9 1361.5 966.6 1358.5 966.6 1358.5 967.7 1355.5 967.7 1355.5 968.4 1352.5 968.4 1352.5 968.2 1349.5 968.2 1349.5 968.9 1346.5 968.9 1346.5 969.1 1343.5 969.1 1343.5 968.7 1340.5 968.7 1340.5 968.4 1337.5 968.4 1337.5 968.8 1334.5 968.8 1334.5 967.1 1331.5 967.1 1331.5 969.1 1328.5 969.1 1328.5 966.8 1325.5 966.8 1325.5 966.7 1322.5 966.7 1322.5 969.3 1319.5 969.3 1319.5 968.3 1316.5 968.3 1316.5 967.5 1313.5 967.5ZM1363.9 648h5v67h-5zM1363.9 648h2.2v318h-2.2zM1365.4 711h4.5v143.7h-4.5zM1369.9 847.7h4.5v65.5h-4.5zM1372.9 906.2h4.5v32h-4.5zM1375.9 931.3h4.5v17.7h-4.5zM1378.9 942h4.5v11.6h-4.5zM1381.9 946.6h4.5v9h-4.5zM1383.4 951.2 1386.4 951.2 1386.4 952 1389.4 952 1389.4 952.7 1392.4 952.7 1392.4 951.6 1395.4 951.6 1395.4 950.7 1398.4 950.7 1398.4 950.7 1401.4 950.7 1401.4 952.6 1404.4 952.6 1404.4 951.6 1407.4 951.6 1407.4 951.2 1410.4 951.2 1410.4 952.7 1413.4 952.7 1413.4 952 1416.4 952 1416.4 950.9 1419.4 950.9 1419.4 952.1 1422 952.1 1422 968.7 1419.4 968.7 1419.4 968.1 1416.4 968.1 1416.4 966.6 1413.4 966.6 1413.4 968.1 1410.4 968.1 1410.4 967.5 1407.4 967.5 1407.4 969.4 1404.4 969.4 1404.4 969.4 1401.4 969.4 1401.4 969.2 1398.4 969.2 1398.4 967.5 1395.4 967.5 1395.4 968.6 1392.4 968.6 1392.4 967.1 1389.4 967.1 1389.4 967.4 1386.4 967.4 1386.4 968.6 1383.4 968.6Z" fill="#000"/>
</g>
<g id="cursors">
<rect x="73" y="187.5" width="1349" height="3.5" fill="#000"/>
<rect x="297" y="114" width="5" height="179" fill="#000"/>
<polygon points="246,172.5 250,172.5 290,187 290,191 250,206.5 246,206.5" fill="#000"/>
<polygon points="350,174 346,174 306,187 306,191 346,206.5 350,206.5" fill="#000"/>
<rect x="73" y="1048.5" width="1300" height="3.5" fill="#000"/>
<polygon points="1370,1036 1372,1034 1377,1034 1417,1048 1417,1051 1375,1068 1371,1068 1370,1066" fill="#000"/>
<polygon points="1392,263 1392,268 1405,281.5 1409,281.5 1409,251 1405,251" fill="#000"/>
<rect x="1409" y="263" width="13" height="5" fill="#000"/>
<polygon points="732,21 765,21 753,33 753,38 744,38 744,33" fill="#000"/>
</g>
<g id="labels" shape-rendering="auto">
<text class="d" transform="translate(138 149.2) scale(1.4 1)" font-size="53">1</text>
<text transform="translate(799.5 146) scale(1.1 1)" font-size="53" stroke="#000" stroke-width="0.5">2</text>
<text class="d" transform="translate(798.4 1032.2) scale(1.35 1)" font-size="54">1</text>
</g>
<g id="frame">
<rect x="64" y="12" width="1367" height="10" fill="#000"/>
<rect x="64" y="12" width="9" height="1101" fill="#000"/>
<rect x="1422" y="12" width="9" height="1101" fill="#000"/>
<rect x="64" y="1104" width="1367" height="9.8" fill="#000"/>
<rect x="1426" y="1113" width="5" height="49.5" fill="#000"/>
</g>
<g id="markers">
<polygon points="14,545 17,542 49,542 64,558 64,572 49,584 47,589 17,589 14,586" fill="#000"/>
<g shape-rendering="auto">
<text class="d" transform="translate(25 582.5) scale(1.15 1)" font-size="42" fill="#fff">1</text>
</g>
<path d="M15 949.8H49L65 969L49 988.5V991.8H15Z" fill="#fff" stroke="#000" stroke-width="3" stroke-linejoin="miter"/>
<g shape-rendering="auto">
<text x="25.4" y="986" font-size="44" font-weight="bold" fill="#000" text-anchor="start">2</text>
</g>
</g>
<g id="readout">
<rect x="64" y="1113" width="84" height="1.2" fill="#fff"/>
<rect x="64" y="1114.2" width="84" height="44.8" fill="#000"/>
<rect x="151" y="1113" width="3.5" height="48.5" fill="#000"/>
<rect x="415" y="1113" width="3" height="48.5" fill="#000"/>
<rect x="151" y="1157" width="267" height="4.5" fill="#000"/>
<rect x="506.5" y="1113" width="3.5" height="48.5" fill="#000"/>
<rect x="773" y="1113" width="3" height="48.5" fill="#000"/>
<rect x="506.5" y="1157" width="269.5" height="4.5" fill="#000"/>
<rect x="815" y="1113" width="3.5" height="48.5" fill="#000"/>
<rect x="976.5" y="1113" width="3" height="48.5" fill="#000"/>
<rect x="815" y="1157" width="164.5" height="4.5" fill="#000"/>
<rect x="1051" y="1113" width="1.6" height="49.5" fill="#000"/>
<rect x="1051" y="1159.5" width="380" height="3" fill="#000"/>
<g shape-rendering="auto">
<text x="65" y="1148.5" font-size="40" fill="#fff" stroke="#fff" stroke-width="0.4" letter-spacing="1.5">Ch<tspan class="d" x="126.7" y="1150.4" stroke-width="1.7" letter-spacing="0">1</tspan></text>
</g>
<g shape-rendering="auto" stroke="#000" stroke-width="1.3" stroke-linejoin="miter">
<text x="199.5" y="1148.5" font-size="40" font-weight="bold" fill="#000" text-anchor="start" letter-spacing="4">2.00 V</text>
<text x="422.5" y="1148.5" font-size="40" font-weight="bold" fill="#000" text-anchor="start" letter-spacing="3">Ch2</text>
<text x="558" y="1148.5" font-size="40" font-weight="bold" fill="#000" text-anchor="start" letter-spacing="3.6">2.00 V</text>
<text x="778.3" y="1148.5" font-size="40" font-weight="bold" fill="#000" text-anchor="start">M</text>
<text x="828.5" y="1148.5" font-size="40" font-weight="bold" fill="#000" text-anchor="start" letter-spacing="4.1">400ms</text>
<text x="1018.5" y="1148.5" font-size="40" font-weight="bold" fill="#000" text-anchor="start">A</text>
<text x="1085" y="1148.5" font-size="40" font-weight="bold" letter-spacing="1">Ch<tspan class="d" x="1147.6" y="1150" font-size="36" font-weight="normal" stroke-width="4" letter-spacing="0">1</tspan></text>
<text x="1288.5" y="1148.5" font-size="40" font-weight="bold" fill="#000" text-anchor="start" letter-spacing="4.2">4.44 V</text>
</g>
<polygon points="1196,1144 1208,1144 1216,1120 1231,1120 1231,1125.5 1222,1125.5 1214.5,1149 1196,1149" fill="#000"/>
</g>
</svg>
<table class="legend"><tr>
<td class="c1"><span class="n">1.</span><span class="t">Lock signal</span></td>
<td class="c2"><span class="n">2.</span><span class="t">Unlock<br>signal</span></td>
</tr></table>
</body></html>
